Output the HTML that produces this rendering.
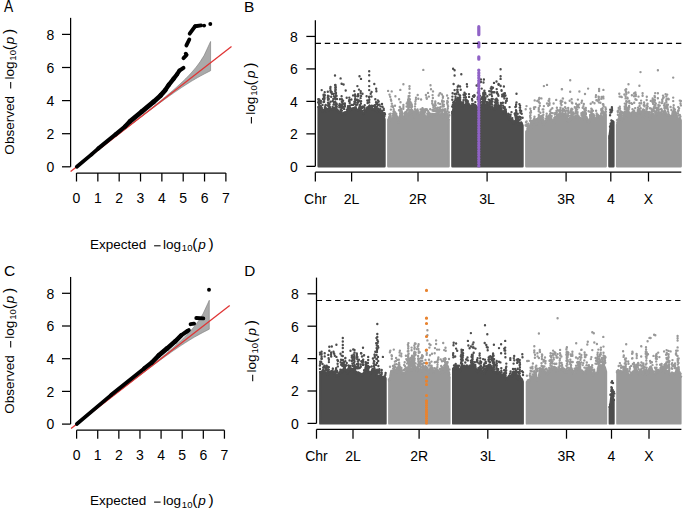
<!DOCTYPE html>
<html><head><meta charset="utf-8"><style>
html,body{margin:0;padding:0;background:#fff}
svg{display:block}
text{font-family:"Liberation Sans",sans-serif;fill:#000}
</style></head><body>
<svg width="685" height="510" viewBox="0 0 685 510">
<rect width="685" height="510" fill="#fff"/>
<path d="M318.6 166.3 L318.6 108.5 L319.6 105.8 L320.6 106.6 L321.6 108.9 L322.6 111.4 L323.6 109.9 L324.6 109.5 L325.6 107.7 L326.6 111.1 L327.6 108.9 L328.6 110 L329.6 106.5 L330.6 108.9 L331.6 109.3 L332.6 109.6 L333.6 108.2 L334.6 108 L335.6 108.9 L336.6 109 L337.6 110 L338.6 111.9 L339.6 112.3 L340.6 112 L341.6 112.6 L342.6 114.3 L343.6 114 L344.6 113 L345.6 113.9 L346.6 113.2 L347.6 110.3 L348.6 108.5 L349.6 109.6 L350.6 110.3 L351.5 109 L352.5 108.4 L353.5 108.2 L354.5 107.7 L355.5 107.6 L356.5 109.5 L357.5 110.5 L358.5 109.8 L359.5 107.1 L360.5 109.4 L361.5 110.7 L362.5 113.4 L363.5 114.1 L364.5 112.9 L365.5 111 L366.5 109.6 L367.5 107.9 L368.5 107.4 L369.5 105.5 L370.5 106.9 L371.5 106.7 L372.5 109.5 L373.5 109.2 L374.5 109.7 L375.5 110.3 L376.5 110.7 L377.5 111.9 L378.5 108.8 L379.5 110.8 L380.5 111.5 L381.5 113.1 L382.5 114.7 L383.5 115.9 L384.5 119.6 L384.5 166.3Z" fill="#4d4d4d" stroke="#4d4d4d" stroke-width="2.4" stroke-linejoin="round"/>
<path d="M318.3 107h0M319 104.5h0M318.1 102.4h0M318.7 100.9h0M318.3 99.3h0M319.1 103.8h0M319.3 99.4h0M319.7 102.1h0M319.2 104.9h0M320.9 100.9h0M320.8 103h0M320.8 106.2h0M321.7 107.9h0M323.6 94.6h0M323.9 97.2h0M324.7 92.2h0M324.9 95.1h0M324.5 96.9h0M324.5 98.4h0M324.9 107.2h0M324.2 99.7h0M324.1 101.7h0M325.4 105.6h0M325.6 104.9h0M327.9 95.7h0M327.8 97.7h0M328 99.8h0M328 102.8h0M328.9 105.9h0M328.6 108.9h0M328.2 103.1h0M327.8 105.3h0M328.7 96.1h0M328.7 98.4h0M328.9 105.3h0M328.3 106h0M328.4 102.8h0M328.7 99.6h0M329.6 104.1h0M330.2 108.7h0M330.6 101.7h0M330.3 88.2h0M330.4 90.8h0M330.5 87h0M330.5 90.1h0M330.8 92.2h0M331.7 92h0M331.9 93.7h0M331.2 96.7h0M332.8 100.9h0M332.6 107h0M332.7 109.3h0M333.5 104.6h0M333.9 104.2h0M333.7 102h0M333.3 99h0M334 96.2h0M333.5 94h0M335.8 103.5h0M335.7 106.1h0M335.7 104.8h0M335.2 101.8h0M335.5 99.1h0M335 98h0M335.7 96.6h0M336.1 95.3h0M335.6 93h0M335.3 91.2h0M335.6 88.9h0M335.8 87.1h0M335.3 85.2h0M336.3 103.3h0M336.6 104.8h0M336.2 107h0M336.8 104.3h0M336.1 106.3h0M336.8 106.8h0M339.7 104h0M339.2 105.5h0M339.3 107.3h0M340.8 105.1h0M340.8 106.9h0M340.9 109.6h0M340.5 110.3h0M340.8 111.2h0M342 105.6h0M342.1 107.3h0M341.9 107.9h0M341.9 110.5h0M341.9 99.3h0M341.8 101.7h0M342.1 104.3h0M341.4 107.9h0M341.1 110.9h0M342.4 114h0M343.1 103.6h0M343.1 106.7h0M344 112.6h0M343.4 103.6h0M343.1 100.7h0M342.8 103.2h0M344.3 104.1h0M344.6 105.1h0M344.9 105.1h0M344.1 108.9h0M344.9 106.5h0M344.9 103.4h0M345.3 112.3h0M346 113.8h0M346.8 109.6h0M346.6 112.2h0M347.5 109.5h0M347.8 109.1h0M348 106.1h0M347.8 107.8h0M348.3 107.6h0M349 101.1h0M349.3 108.8h0M350 107.5h0M350.4 109.2h0M349.6 101.4h0M349.7 105.6h0M349.7 102.9h0M349.3 100h0M349.3 97.6h0M351.5 104.9h0M351.4 99.5h0M353 104.9h0M353.1 95.4h0M354.3 91.1h0M354.9 102.5h0M354.6 104.1h0M354.4 101.8h0M354.4 103.8h0M355.6 96.1h0M355.3 98.9h0M355.3 100.6h0M355.4 102.6h0M355.1 94.5h0M355.2 96.7h0M355.1 99.2h0M355.2 102.1h0M356.2 105.1h0M355.6 107.2h0M357.9 101.5h0M357.3 104.6h0M357.3 99.7h0M357.6 102.9h0M358.1 94.3h0M357.9 96.2h0M358.9 100.5h0M358.2 100.4h0M357.9 102.6h0M360 105.1h0M360 107h0M359.8 105.2h0M359.9 101.3h0M360.7 91.3h0M360.7 93.3h0M360.6 98.1h0M361.1 101.2h0M360.9 103.6h0M361.1 95.9h0M362.1 106.8h0M361.7 108.3h0M362.8 106.8h0M362.3 111.3h0M362.1 108.1h0M362.2 111.1h0M363.3 113.2h0M364 110.5h0M364.7 105.3h0M364.5 107.8h0M364.7 109h0M367.3 107.5h0M367.3 100.5h0M367.6 103h0M369.1 97.3h0M369.3 99.7h0M369.2 102.2h0M371.6 92h0M371.8 105.7h0M373.4 106.1h0M373.5 105.9h0M374.5 109.3h0M374.9 105.1h0M374.9 107.3h0M376 109.9h0M376 102.3h0M376.3 103.8h0M376.1 106.7h0M375.9 108.4h0M376.2 88.7h0M376.4 91.2h0M377.6 102.6h0M377.9 105h0M377.1 106.8h0M377.5 109h0M378.7 101.5h0M379.5 104.6h0M380.4 106.4h0M380.4 109.2h0M380 111.1h0M381.4 110.9h0M382.9 114h0M382.2 110.9h0M381.9 113.5h0M382.1 112.4h0M382.4 114h0M382.5 106.7h0M383.4 113.3h0M383.7 108.6h0M383.8 110.1h0M383.9 115.7h0M385 114.2h0M384.6 113.3h0M384.5 116h0M384.3 113.2h0M384.3 115.4h0" stroke="#4d4d4d" stroke-width="2.4" stroke-linecap="round" fill="none"/>
<path d="M388.3 166.3 L388.3 119.7 L389.3 118.3 L390.3 121.7 L391.3 120.8 L392.3 119.7 L393.3 117 L394.3 116.1 L395.3 115.8 L396.3 115.9 L397.3 117.8 L398.4 122.4 L399.4 118.7 L400.4 114.6 L401.4 110 L402.4 115.7 L403.4 118.7 L404.4 116.7 L405.4 118.2 L406.4 116.9 L407.4 117.5 L408.4 113.4 L409.4 111.9 L410.4 113.3 L411.4 110.1 L412.4 112.6 L413.4 114.4 L414.4 117.4 L415.4 113.9 L416.4 112.1 L417.4 111 L418.4 113.7 L419.5 115.3 L420.5 114.8 L421.5 111.9 L422.5 108.1 L423.5 110.6 L424.5 114.5 L425.5 118.3 L426.5 118 L427.5 115.5 L428.5 113.2 L429.5 114.9 L430.5 115.4 L431.5 116.1 L432.5 114 L433.5 114.3 L434.5 114.6 L435.5 113.9 L436.5 113.7 L437.5 113.1 L438.6 114.9 L439.6 114.5 L440.6 115.1 L441.6 117.3 L442.6 117.4 L443.6 117.9 L444.6 113.8 L445.6 115 L446.6 115 L447.6 118 L448.6 121 L448.6 166.3Z" fill="#999999" stroke="#999999" stroke-width="2.4" stroke-linejoin="round"/>
<path d="M389.5 94.6h0M390.2 96.8h0M389.1 117.3h0M389.6 116.7h0M389.4 114.2h0M389.5 117h0M390.5 116.6h0M390.6 118.3h0M390.5 120.1h0M390 120.4h0M390.5 113.7h0M390.7 116.3h0M389.9 120.8h0M391.5 118.1h0M391.2 100.8h0M391.8 103.6h0M391.5 106.4h0M390.9 109.6h0M390.9 119.3h0M392.5 105.6h0M393.7 113.6h0M393.7 115.1h0M392.9 113.6h0M392.9 115.6h0M393 106.9h0M393.7 109.3h0M393.5 111.5h0M394.1 111.2h0M395.4 96.2h0M395.6 113.1h0M395 112.1h0M395 114.8h0M396.3 114.1h0M396.3 114h0M397.6 117.5h0M397.6 117.2h0M397.3 116.8h0M398.7 122h0M399 110.3h0M399.8 106.9h0M399.9 110.4h0M400.1 113.6h0M400.1 109.4h0M400.2 111.6h0M400.9 108.8h0M402 112.7h0M401.8 115.6h0M403.2 118h0M403.4 105h0M403.4 106.9h0M403.3 108.7h0M404.3 113.5h0M405.5 115.4h0M405.8 117.1h0M405.3 112.4h0M405.1 115h0M405.3 116.7h0M405.1 112.5h0M405 115.6h0M406.3 116.1h0M406.3 111.6h0M406.6 113.8h0M406.2 116.6h0M406.7 103.5h0M406.6 106.5h0M407.1 110.2h0M406.8 112.1h0M407 113.9h0M407.2 115.8h0M407.5 102.3h0M408.5 98.3h0M408.1 99.9h0M408.2 105.3h0M408.3 108.5h0M408.8 109.4h0M408.6 107.2h0M408.5 106.1h0M408.5 105h0M408.1 103.7h0M408.3 100.9h0M408.7 98.6h0M408.6 96.1h0M409.8 99.6h0M409.7 101.6h0M409.4 111.1h0M409 103.1h0M408.8 105.4h0M410.4 110h0M410.5 111.4h0M410.6 110.4h0M410.5 102.2h0M410.6 104.8h0M410.3 107.1h0M411.3 107.3h0M411.8 104.9h0M412 106.8h0M411 109.9h0M411.5 107.6h0M411.6 109.9h0M411.3 103.4h0M412.3 111.6h0M412.6 111h0M412.2 110.2h0M412.6 112.4h0M413.5 111.5h0M413.8 113.9h0M413.3 113.8h0M415.4 101.5h0M415.3 103.9h0M415 106.4h0M415 109.2h0M415.1 111h0M415.1 112.4h0M415.1 112.5h0M415.3 113.2h0M416.6 111.9h0M416.3 110.7h0M416 97.8h0M415.9 99.4h0M417.5 109.4h0M417.7 110.7h0M417.5 110.8h0M419.5 115.2h0M420.5 109.5h0M420.2 112.2h0M420.2 114.6h0M423.6 110.4h0M424.9 112.1h0M424.6 112.6h0M425.8 110.2h0M425.2 109.3h0M426.8 98.8h0M426.7 109.1h0M427 110h0M427.8 110.7h0M427.3 113.4h0M428.9 96.6h0M428.9 112.4h0M429.9 114.7h0M430.8 113.8h0M430.2 109.3h0M431 115.5h0M432.5 110.5h0M433 105.2h0M432.5 109.9h0M433.4 107.4h0M432.6 104.2h0M432.2 103.2h0M432.2 101h0M432.9 98h0M432.6 95.1h0M433.5 105.1h0M433.4 107.4h0M433.7 110.3h0M433.7 110.9h0M433.9 113.9h0M434.8 106h0M434.4 108.6h0M435.2 103h0M434.8 105.6h0M435.8 108.7h0M435.3 101.4h0M435.2 103.2h0M435.7 105.2h0M435.8 108.3h0M435.6 111.2h0M436.8 109.8h0M436.8 111.6h0M437.2 110.7h0M437.8 107.7h0M437.7 110.4h0M438.3 103.2h0M438.2 110.2h0M437.6 112.1h0M438.2 113.7h0M439.9 107.6h0M439.8 109.3h0M439.6 111h0M439.7 107.8h0M439.5 112.5h0M439.7 110.1h0M440.1 103.9h0M440.6 107h0M440.8 109.6h0M440.9 111.6h0M441.1 114.1h0M443 113.9h0M442.5 117h0M442.3 114.3h0M442.3 113.5h0M442.3 115.4h0M442.7 114.8h0M442.5 113.4h0M442.2 112.2h0M442.6 111h0M442.9 109.5h0M442.9 106.6h0M442.6 104.9h0M442.4 102.8h0M442.1 101.6h0M442.2 100.4h0M442.9 97.7h0M443 96.5h0M441.9 94.4h0M443.9 116h0M443.8 101.4h0M443.9 104.6h0M443.8 106.3h0M443.3 113.9h0M444.8 109.9h0M444.9 112h0M444.8 113.6h0M445.3 113.3h0M445.8 111.4h0M446.1 112.3h0M446 113.8h0M447.3 113.9h0M447.4 111.3h0M447.5 109.8h0M447.8 108.3h0M448.1 106.2h0M447.5 104.5h0M447.2 103h0M447.8 102h0M447.3 100.9h0M448.1 98.2h0M447.1 95.5h0M448.6 115.6h0M448.6 117.3h0M448.8 119.6h0M449 112.5h0M449.3 115.2h0M448.5 116.4h0" stroke="#999999" stroke-width="2.4" stroke-linecap="round" fill="none"/>
<path d="M452.4 166.3 L452.4 113.3 L453.4 111.1 L454.4 107.6 L455.4 102.9 L456.4 102.5 L457.4 104.4 L458.4 102.8 L459.4 102.8 L460.4 101.9 L461.4 106 L462.4 105.8 L463.4 106.1 L464.4 105.2 L465.4 105.5 L466.4 104.5 L467.4 105 L468.4 103.6 L469.4 105.3 L470.4 105.8 L471.4 107.2 L472.4 105.7 L473.4 104.1 L474.4 105.2 L475.4 105.4 L476.4 106.4 L477.4 108.2 L478.4 107.3 L479.4 108 L480.4 106.1 L481.4 106.2 L482.4 104.8 L483.4 100.7 L484.4 103.8 L485.4 105 L486.4 108.8 L487.4 105 L488.5 104.4 L489.5 106.6 L490.5 107.2 L491.5 108.8 L492.5 107.8 L493.5 108.8 L494.5 109.1 L495.5 109.3 L496.5 108.9 L497.5 107.3 L498.5 105.3 L499.5 106.3 L500.5 106.6 L501.5 110.5 L502.5 113.3 L503.5 112.6 L504.5 112.4 L505.5 110.3 L506.5 114.7 L507.5 116.1 L508.5 118.3 L509.5 119.6 L510.5 119.4 L511.5 120.8 L512.5 119.8 L513.5 123.3 L514.5 121.5 L515.5 120.8 L516.5 118.8 L517.5 122 L518.5 124.5 L519.5 123.9 L520.5 123.6 L521.5 123.1 L522.5 125.4 L522.5 166.3Z" fill="#4d4d4d" stroke="#4d4d4d" stroke-width="2.4" stroke-linejoin="round"/>
<path d="M452.8 113.2h0M452.2 106.5h0M452.3 112.9h0M452.2 111.6h0M452.4 96.6h0M452.3 99.7h0M453.3 110.3h0M452.9 104.8h0M453 107.4h0M453.1 110.1h0M453.2 102.5h0M453.6 105h0M453.2 107.5h0M453.4 105.8h0M453.5 108.7h0M453.8 102h0M454 104h0M454.7 93.9h0M455.5 96.4h0M455.5 102.6h0M455.6 98.4h0M455.3 102.8h0M455.2 100.2h0M456 100.5h0M456.3 100h0M456.7 99.9h0M456.4 101.5h0M457.8 98h0M457.9 100.9h0M457.8 102.9h0M457.7 86.8h0M457.6 89.7h0M457.2 89.7h0M457.4 92h0M457.9 92.1h0M458.4 85.8h0M458.9 99.1h0M458.8 100.8h0M458.7 100.7h0M458.6 98.5h0M458 97.8h0M458.5 94.3h0M459.6 102.4h0M460.1 86.5h0M460.7 89.7h0M460.1 95.5h0M459.9 97.4h0M459.8 100.2h0M460.2 97.8h0M460.1 99.5h0M460.3 101.4h0M461.6 104.6h0M461.1 105.6h0M461.5 102.9h0M463.5 105.1h0M463.5 100.1h0M463.2 102.4h0M463.3 105h0M463.6 94.7h0M463.6 104.9h0M463 102.2h0M463 103.9h0M465.7 94h0M465.9 97.3h0M465.7 99.4h0M465.8 101.3h0M465.6 104.2h0M466.8 101.6h0M466.6 100h0M466.3 102.8h0M466.5 104.3h0M467.1 86.6h0M467.8 101.8h0M467.6 104.8h0M467.7 100.9h0M469 94.1h0M469.1 96.9h0M472.2 104h0M472 99h0M472.3 100.5h0M474.7 95.8h0M474.3 95.1h0M474 96.7h0M475.3 102.1h0M475 104.9h0M477.8 97.2h0M477.7 99.2h0M477.8 92.8h0M478.6 83.9h0M478.3 85.7h0M479.9 95.8h0M479.6 98.5h0M479.9 101.1h0M479.9 103.4h0M479.1 105.2h0M479.2 107.5h0M480.7 98.7h0M480 100.3h0M480 102.4h0M480.1 105.5h0M480.5 105.3h0M481 101.7h0M481.6 104.8h0M482.1 97.2h0M482 98.7h0M483.6 92.7h0M483 99.8h0M483.3 92.9h0M483.6 95.8h0M483.9 79.5h0M483.5 82.5h0M483.2 94h0M482.9 96.1h0M483.5 95.3h0M483.6 98.1h0M483.9 94.1h0M483.8 96.5h0M484.4 90.7h0M484.5 92.5h0M484.2 94.9h0M484.6 101.4h0M484.2 99.8h0M485.3 99h0M485.1 100.6h0M485.5 97.7h0M485.2 92.9h0M485.5 94.4h0M485.4 97.4h0M486.3 102.3h0M486.4 104h0M487.3 102.2h0M487.8 104.7h0M488.9 102.4h0M488.7 99.6h0M489.2 91.1h0M489.5 94.6h0M489.8 103.8h0M489.8 105.7h0M490.8 88.4h0M490.6 91.4h0M490 100.7h0M489.7 103.7h0M489.6 105.5h0M491.5 104h0M491.5 107h0M491.5 108.6h0M491.4 108.5h0M492 104.8h0M491.6 103.5h0M491.1 102.3h0M491.4 100.1h0M491.6 98.9h0M492 96.1h0M491.4 94.2h0M491.7 92h0M491.6 89.3h0M491.5 86.9h0M492.7 99h0M492.5 101.6h0M492 106.9h0M493 87.8h0M493.2 92.3h0M493.8 108.6h0M494.5 107h0M494 108.7h0M494.5 105.4h0M494.5 107h0M494 82.9h0M495.9 101.1h0M495.7 103.5h0M495.8 107.1h0M495.9 109h0M495.3 99.8h0M495.1 102.3h0M495.4 104.6h0M495 106.3h0M496.4 102.3h0M496.6 98.7h0M496.4 100.7h0M496.5 103.3h0M496 100.9h0M496.2 103.2h0M496.3 106.2h0M496.7 89.1h0M497.1 92.3h0M496.6 105h0M497.6 100.7h0M497.3 99.9h0M497.3 101.4h0M497.3 100.5h0M497.7 103h0M497.4 105.4h0M497.5 107h0M498.6 84.8h0M498.4 95.7h0M500.9 105.1h0M500.6 106h0M500.9 103h0M501.1 103.5h0M501.2 109.8h0M502.2 94.7h0M502.2 96.4h0M502.9 102.7h0M502.6 105.6h0M503.1 105.7h0M503.2 107.7h0M503.9 94.4h0M504 96.2h0M504.4 98.4h0M503.2 111.5h0M503.9 86.5h0M504.7 109.4h0M504.4 112.2h0M504.9 93.2h0M505.5 95.4h0M504.2 110.6h0M504.8 107.3h0M504.6 110.4h0M505.7 109.5h0M505.6 102.8h0M506.9 98.6h0M506.7 100.7h0M508.5 114h0M508.4 115h0M508.8 116.8h0M508.2 113.9h0M508.3 116.7h0M509.2 119.4h0M509.6 107.1h0M510.4 116.5h0M510.3 118.4h0M510.6 114.7h0M510.4 119h0M511.5 112.1h0M512.3 118.1h0M514.8 113.6h0M514.7 113.8h0M515.5 114.8h0M515.7 117.7h0M516.1 104.5h0M516 106.2h0M516 110.2h0M516.2 112.9h0M517 113.5h0M516.8 116.3h0M517.7 113.8h0M517.7 116.8h0M517.9 120.8h0M518.1 118.6h0M518.1 121.6h0M519.4 104.1h0M519.3 116.8h0M519.4 119.7h0M519.4 122.7h0M520.2 123.4h0M520.1 105.6h0M519.7 107.6h0M520 110.5h0M520.5 117.2h0M520.5 119.3h0M520.1 107.7h0M520.1 110.2h0M521.2 111h0M521.7 113.7h0M521.2 122.5h0M522.6 117.8h0" stroke="#4d4d4d" stroke-width="2.4" stroke-linecap="round" fill="none"/>
<path d="M526.3 166.3 L526.3 131.5 L527.3 132.2 L528.3 128.8 L529.3 129.1 L530.3 124.7 L531.3 127.2 L532.3 124.6 L533.3 124.3 L534.3 121.8 L535.3 123 L536.4 124.3 L537.4 121 L538.4 117.9 L539.4 116 L540.4 117.7 L541.4 120 L542.4 122.2 L543.4 124.5 L544.4 123.9 L545.4 121.2 L546.4 120.3 L547.4 118.4 L548.4 117.4 L549.4 115.6 L550.4 119.1 L551.4 120.2 L552.4 120.4 L553.4 119.7 L554.4 122.5 L555.4 119.8 L556.5 117.1 L557.5 114.6 L558.5 115.1 L559.5 114.4 L560.5 113.2 L561.5 115.1 L562.5 115.6 L563.5 114.2 L564.5 114.4 L565.5 115.8 L566.5 117 L567.5 121.1 L568.5 120.7 L569.5 122 L570.5 118.1 L571.5 118.5 L572.5 117.4 L573.5 117.3 L574.5 116.9 L575.5 117.6 L576.6 117.1 L577.6 117.9 L578.6 116.3 L579.6 119.3 L580.6 118.3 L581.6 119.1 L582.6 118.5 L583.6 119.4 L584.6 118.2 L585.6 116.6 L586.6 117.2 L587.6 123.2 L588.6 122.6 L589.6 121.2 L590.6 116.2 L591.6 113.7 L592.6 113.9 L593.6 114.6 L594.6 118.4 L595.6 118.5 L596.7 118.7 L597.7 116.7 L598.7 115.8 L599.7 116.9 L600.7 118.6 L601.7 117.4 L602.7 117.7 L603.7 116 L604.7 115.6 L605.7 114.3 L605.7 166.3Z" fill="#999999" stroke="#999999" stroke-width="2.4" stroke-linejoin="round"/>
<path d="M526.5 124.4h0M526.4 126h0M526.5 106.1h0M525.7 109.2h0M526.6 121.4h0M526 122.1h0M525.6 125.3h0M527.4 128.8h0M527.3 130.8h0M528.3 123.8h0M528 128.7h0M528.5 127.5h0M528 125.8h0M528 127.7h0M528.5 128.2h0M530.6 118h0M530.4 120.5h0M530.2 112.7h0M530.5 115.2h0M530 120.7h0M530.3 117.8h0M530.1 115.9h0M531 112.6h0M530.9 111h0M530.3 108.7h0M531.1 126.5h0M530.9 123h0M531.5 122.6h0M531.6 124.1h0M533.4 122.3h0M533.6 120.5h0M532.8 122.6h0M533.8 119.6h0M534.1 122.4h0M533 120.8h0M532.7 124h0M533.4 122h0M534.5 116.8h0M534.2 118.7h0M534 107.4h0M534.1 108.9h0M534.3 119.4h0M534.4 121.2h0M535.7 120.3h0M535.9 123.8h0M536.4 119.1h0M536 120.6h0M535.7 122.8h0M537.3 100.9h0M537.7 119.6h0M538.8 107.9h0M538.8 109.4h0M538.7 111.2h0M538.8 114.9h0M538.9 99.5h0M539.8 103.1h0M539.8 105.7h0M540.4 112.7h0M541.3 116h0M542.8 121.6h0M542.4 119.1h0M542.7 109.4h0M542.3 117h0M542.2 118.9h0M542.2 117.5h0M543 117.6h0M543 117.1h0M543.3 109.5h0M543.3 112.1h0M543.3 114.7h0M543.2 119.8h0M543.1 122.4h0M544.5 122.6h0M544.3 121.2h0M544.1 122h0M544.7 122.3h0M545.6 118.6h0M546.5 116.5h0M546.6 118.4h0M546.7 113.7h0M546.6 116h0M547.3 116.4h0M547.6 116.9h0M547.5 117.1h0M548.2 105.8h0M549.3 99h0M548.6 100.7h0M549.6 103.1h0M549.5 104.8h0M549.4 115.5h0M549.2 100.8h0M548.9 103.8h0M549.9 111.3h0M550.1 114h0M550.8 109.6h0M551 112.8h0M551.6 116h0M551.4 118.3h0M552.3 108.2h0M552.8 113.1h0M554.3 118h0M555.8 117.3h0M555.2 112.9h0M554.8 114.6h0M555 117.3h0M555.9 118.5h0M556.8 112.3h0M556.6 114h0M556.9 107.8h0M556.5 110.8h0M557.5 110h0M559 110.7h0M559.7 113.9h0M559.9 111.8h0M559.7 114.4h0M559.3 113.4h0M560.5 107.7h0M560.5 109.8h0M560.3 109.7h0M560.6 101.3h0M560.9 102h0M560.8 103.6h0M561 100.6h0M560.9 102.5h0M561.5 105h0M561.3 115h0M562.1 110.8h0M562.3 112.8h0M563.9 113.6h0M563.3 110.1h0M563 108.7h0M563.3 110.7h0M564.1 109.9h0M565.7 108.4h0M565.3 111.2h0M565.8 113.3h0M565.1 115.6h0M565.1 107.1h0M567 110.6h0M566.6 115.1h0M567.3 115.3h0M567.3 118.4h0M567.8 120.3h0M567.4 117.8h0M567.6 119.6h0M568.5 115.7h0M568.5 111.1h0M568.2 113.3h0M568.2 108h0M568.4 110.3h0M568.3 112.4h0M568.1 119.3h0M569.6 118.5h0M569.4 120.4h0M570.9 116.8h0M570.6 115.6h0M570 117.7h0M570.2 112.5h0M570.8 117.8h0M571.2 109.3h0M571.1 110.8h0M571.4 112.6h0M571.4 114.1h0M571.6 108.7h0M571.6 110.7h0M571.6 99.3h0M571.8 102.5h0M571.9 115h0M571.5 117.1h0M572.3 109.2h0M572.2 112.4h0M572.3 114.1h0M572.7 116.4h0M573.2 112.5h0M573.1 114.2h0M573.1 116.7h0M573.8 116.4h0M573.8 116.6h0M574.8 113.6h0M574.6 116.8h0M575.7 108.5h0M575.8 111.2h0M576.3 113.3h0M575.5 115.9h0M576.1 109.3h0M576.2 112.5h0M576.1 103.7h0M577.2 104.9h0M577.7 107.1h0M577.5 114.7h0M577.7 116.9h0M577.5 113.8h0M577.6 112.1h0M577.2 109.6h0M576.7 106.9h0M577.8 105.8h0M579.2 104.4h0M578.9 107.4h0M580.6 118h0M581.5 114.4h0M581.4 113.3h0M581.6 115.5h0M583 112.7h0M583.4 115.1h0M583.2 118h0M583 112.1h0M583 114.4h0M582.6 112.4h0M582.4 114h0M582.5 116.3h0M582.7 107.8h0M583.3 117h0M583.8 104h0M583.4 106.1h0M584.2 116.6h0M585.1 114.9h0M585.3 118.1h0M584.4 109.7h0M584.1 112.7h0M584.4 115.8h0M584.3 117.9h0M585.9 110.3h0M585.7 112.8h0M585.9 114.4h0M585.8 108h0M585.1 110.9h0M585.9 113.6h0M587.8 119.4h0M587.6 121.7h0M588.7 120.6h0M589.3 122.1h0M588.6 111.2h0M590.2 116.1h0M590.4 112.1h0M590.1 115h0M591 114.8h0M591.9 109.5h0M591.7 111.9h0M591.7 110.3h0M591.3 108.6h0M591.4 110.5h0M592.9 110.8h0M594.5 103.2h0M596.1 110.8h0M596 95.2h0M595.8 97.1h0M596.4 100.3h0M596.7 113.5h0M597 116.3h0M596.5 115.4h0M596.3 118h0M597 117.3h0M596.6 118.2h0M597.6 115.8h0M597.8 114.6h0M598.7 97.6h0M599.1 89h0M599.1 91h0M598.8 97h0M599.1 99.8h0M598.9 102.4h0M598.5 96.6h0M598.7 99.4h0M601.1 117.4h0M600.5 115.8h0M601.1 113.7h0M601.2 109.1h0M601.3 110.6h0M602 111.8h0M602.3 113.3h0M601.6 96.9h0M601.4 98.7h0M601.3 113.1h0M601.7 116.1h0M602.6 108.2h0M602.5 110.3h0M602.8 112.1h0M603.5 111.7h0M603.5 114.3h0M603.3 96.8h0M603.4 104.5h0M603.6 106.1h0M604 115.7h0M603.7 113.7h0M604.2 115.8h0M604.9 113.5h0M605.5 107.5h0M605.7 109.5h0M605.6 112.4h0M606 109.1h0M605.9 111.8h0" stroke="#999999" stroke-width="2.4" stroke-linecap="round" fill="none"/>
<path d="M609.4 166.3 L609.4 137.9 L610.4 129.3 L611.4 123.8 L612.4 121.2 L613.4 121.7 L613.4 166.3Z" fill="#4d4d4d" stroke="#4d4d4d" stroke-width="2.4" stroke-linejoin="round"/>
<path d="M609.6 137.8h0M609.5 136.1h0M610.3 109.7h0M610.4 112.5h0M610.1 115.3h0M610.6 123.8h0M610.4 127.1h0M610 126.4h0M610.5 112.4h0M611.1 123.5h0M611.4 120.5h0M612.5 121.2h0M611.9 107.2h0M612 108.9h0" stroke="#4d4d4d" stroke-width="2.4" stroke-linecap="round" fill="none"/>
<path d="M617.1 166.3 L617.1 124.9 L618.1 121.5 L619.1 117.5 L620.1 112.7 L621.1 115.9 L622.1 120.7 L623.1 120.2 L624.1 115.7 L625 113 L626 113.4 L627 115.8 L628 116.1 L629 115.4 L630 115.8 L631 113.7 L632 112.6 L633 112 L634 110.5 L635 114.7 L636 113.2 L637 115.8 L638 110.3 L639 111.5 L640 112.6 L641 113.9 L641.9 116 L642.9 114.2 L643.9 117.5 L644.9 113.4 L645.9 114.2 L646.9 111.8 L647.9 113.8 L648.9 115.1 L649.9 119.3 L650.9 116.7 L651.9 114.8 L652.9 113.4 L653.9 116.3 L654.9 115.2 L655.9 115.6 L656.8 112 L657.8 113.7 L658.8 112 L659.8 113.4 L660.8 112.6 L661.8 113.4 L662.8 113.8 L663.8 113.4 L664.8 110.3 L665.8 112.8 L666.8 114.9 L667.8 115.5 L668.8 114.7 L669.8 116 L670.8 117.6 L671.8 116 L672.8 113.9 L673.7 111.2 L674.7 112.7 L675.7 112.5 L676.7 117.5 L677.7 118.9 L678.7 120 L679.7 117.9 L680.7 120.5 L680.7 166.3Z" fill="#999999" stroke="#999999" stroke-width="2.4" stroke-linejoin="round"/>
<path d="M617.2 120h0M617.3 122.4h0M617.7 111.3h0M617.9 112h0M617.9 114.8h0M618.7 108h0M618.4 110.4h0M619.3 93.8h0M619.6 96.6h0M619.2 115.4h0M619.8 106.8h0M620 108.8h0M620.6 111.1h0M621.5 113.6h0M621.7 115.5h0M621.9 112.2h0M621.5 114.6h0M621.7 117.3h0M621.3 119.3h0M622.3 118.9h0M622.4 120.1h0M621.7 115.2h0M623.5 113.3h0M623.8 115.5h0M623 113h0M622.6 119.5h0M624.8 103.6h0M624.7 106.5h0M624.8 109h0M624.6 111.7h0M624.8 107h0M626.2 89.2h0M625.9 91.8h0M626.3 94.1h0M626 109.4h0M626 107.9h0M626 105.8h0M626.1 104.3h0M626.6 102.6h0M626.2 101.1h0M625.6 98.4h0M625.6 96.2h0M626.4 93.2h0M626.7 110.9h0M626.1 113.2h0M627.1 110h0M627.3 112.8h0M626.7 115.5h0M627.5 110.9h0M627.2 113.6h0M627.7 107.8h0M627.7 110.7h0M627.6 113.8h0M627.7 115.8h0M627.6 98.6h0M627.3 101.6h0M629.2 101h0M629.4 103.1h0M629.1 105.9h0M629.2 107.5h0M628.6 109.8h0M629.5 114h0M628.7 109.4h0M628.3 111.3h0M628.6 113.9h0M629.6 112.7h0M631.4 103.3h0M632.1 103.9h0M632.5 109.2h0M634 93.5h0M634.1 96.3h0M634.2 102.8h0M635.4 92.4h0M635.8 94.5h0M635.8 96h0M635.4 99.3h0M635.2 108.1h0M636.6 115h0M638.1 107.6h0M637.9 109.7h0M639.2 108.8h0M638.5 96.6h0M639.4 85.8h0M639.5 103.3h0M639.6 105.9h0M639.6 110.5h0M640.1 111.2h0M640.2 112h0M641.1 100.6h0M641.2 103.2h0M640.8 112.6h0M640.7 108.2h0M642 114.6h0M641.6 111.8h0M643.4 113.1h0M642.8 110.2h0M642.3 111.9h0M643.2 109.4h0M643 111.7h0M643.7 105.3h0M643.9 116h0M643.6 111.1h0M643.5 113h0M644.1 102.5h0M644.2 104.3h0M644.4 106.2h0M643.7 111.6h0M643.5 110.7h0M643.6 113h0M643.5 116.2h0M643.6 113.5h0M643.8 116.6h0M644.6 110.2h0M645 112h0M646.4 108.1h0M646.8 109.6h0M646.3 111.6h0M646.8 96.8h0M646.7 100h0M647.4 103.9h0M647.1 105.5h0M646.6 105.6h0M647.2 108.5h0M648.1 112.5h0M647.5 103.7h0M647.7 106.6h0M648.2 112.2h0M649.1 111.9h0M649.3 112.9h0M649.6 114.6h0M648.9 112.4h0M650 108.3h0M649.4 114.9h0M649.8 116.4h0M650.9 115.7h0M651.8 109.7h0M651.8 111.4h0M651.3 114.2h0M651.5 108.8h0M651.4 111.9h0M651.7 109.7h0M651.7 111.8h0M651.8 113.5h0M653.3 110.6h0M653.3 110.8h0M652.7 98.4h0M652.5 100.1h0M652.5 101.9h0M653.3 101.2h0M653 103.8h0M653.9 107.3h0M653.9 108.8h0M654.7 111.6h0M655.2 113.1h0M654.7 111.1h0M655 108.2h0M654.5 105.2h0M655.8 103.4h0M654.8 102.4h0M654.6 100h0M655 97.3h0M654.6 95.9h0M655.2 93.1h0M655.4 112.5h0M655.7 115.5h0M655.4 105.3h0M655.7 107.8h0M655.9 111.7h0M656 114.4h0M657.1 108.5h0M656.8 108h0M657.1 109.8h0M657.5 108.8h0M658.4 104.9h0M658.3 107.5h0M658.4 105.2h0M658.5 107.2h0M659.2 109.6h0M658.4 108.2h0M658.2 110.2h0M659.5 102.4h0M659.8 105.6h0M661.2 108.9h0M661.6 111.6h0M661.7 109.7h0M662.2 99.7h0M662.3 101.3h0M661.9 103.1h0M663 95.6h0M663.7 97.2h0M662.6 111.3h0M663.5 111.8h0M664 105.5h0M664.4 108h0M664.5 103.4h0M664.7 106.3h0M664.9 107.8h0M666.3 106.1h0M666.4 108.3h0M666 106.9h0M666.3 100.4h0M666.4 101.9h0M666.5 104.5h0M666.4 106.5h0M667.2 94.6h0M666.3 96.5h0M666.5 99.3h0M667.5 107.1h0M667.9 109.1h0M668.1 111.2h0M667.9 104.7h0M668.4 112.9h0M668.7 99.3h0M669.3 115.4h0M670.3 116.7h0M670.6 107h0M671.2 117.3h0M671.4 110h0M672.6 112.3h0M672.5 113.6h0M674.2 110.1h0M673.7 105.3h0M673.5 107.8h0M673.9 110.4h0M674.3 108.9h0M674.9 109.6h0M675 111.8h0M678.1 111h0M677.5 117.1h0M677.4 118.1h0M679.1 108.3h0M678.7 110.5h0M678.2 107.1h0M678.4 110.2h0M678 113.1h0M678.2 115.2h0M678.7 119.4h0M679.8 100.6h0M679.8 115h0M680.4 116.5h0M680.9 101h0M680.5 103.5h0M680.9 105.4h0" stroke="#999999" stroke-width="2.4" stroke-linecap="round" fill="none"/>
<path d="M335 75.5h0M340.6 78.4h0M341.6 83.7h0M343.6 84.5h0M345.7 90.5h0M321.7 90.1h0M327.8 91.7h0M323.7 95.8h0M335.3 85h0M335.3 87.5h0M335.5 90h0M336 93h0M336.5 96h0M337 99h0M359.5 76.3h0M361 78.9h0M357.4 86.1h0M359 89.6h0M358.5 95.8h0M362.5 93.7h0M369.2 71.2h0M369.2 75.3h0M369.2 81h0M369.2 86.1h0M369.2 90.1h0M370.7 93.7h0M371.5 96.5h0M374.3 84h0M366.6 96.3h0M369.2 96.8h0M375.3 99.3h0M377.9 100.4h0M341.6 96.3h0M340 99.3h0M346.7 97.8h0M382 104h0M323 99h0M323.5 102h0M322.5 105h0" stroke="#4d4d4d" stroke-width="2.4" stroke-linecap="round" fill="none"/>
<path d="M423.3 69.9h0M403.4 84.2h0M388.1 90.9h0M391.7 91.4h0M400.3 89.9h0M409.5 86.3h0M409.5 88.8h0M409.5 93h0M409.5 96h0M409.5 99h0M409.5 102h0M430.5 85.3h0M431 89.3h0M433 91.4h0M428 92.9h0M425.9 95h0M439.7 93.4h0M438.7 95.5h0M417.7 95h0M390.9 99.5h0M399.1 99.2h0M400.5 102.3h0M395 105.7h0M418.3 98.8h0M421.1 99.5h0M426.5 97.4h0M440.3 93.3h0M445.1 109.1h0" stroke="#999999" stroke-width="2.4" stroke-linecap="round" fill="none"/>
<path d="M453.1 68.7h0M454.6 70.2h0M454.6 75.5h0M461.3 74.3h0M453.6 84h0M466.9 84.3h0M454.6 90.1h0M452.6 93.2h0M456.2 93.7h0M464.5 92.7h0M465 95h0M464 97.5h0M473 96.3h0M476.6 85.5h0M480.9 79.4h0M480.9 82h0M481.7 88.6h0M483.8 93.7h0M487.3 96.3h0M500.6 69.2h0M500.6 76.3h0M500.6 78.9h0M496.5 81.5h0M498.6 84h0M500.6 86.1h0M501.6 90.7h0M494.5 92.2h0M497 93.2h0M498 94.2h0M503.7 93.7h0M504.7 96.3h0M516.5 93.7h0M516.5 102.4h0M515.4 107h0M506.2 100.9h0M516.3 111.2h0M520.4 112.7h0M515.3 115.8h0M506.1 101h0M504.1 95.3h0M501.5 90.2h0M500.5 85.6h0" stroke="#4d4d4d" stroke-width="2.4" stroke-linecap="round" fill="none"/>
<path d="M543.9 86.1h0M547 84.9h0M561.8 89.2h0M534.7 100.4h0M539.3 97.9h0M541.4 98.4h0M538.8 102h0M535.3 107.1h0M543.9 106.1h0M547 103.5h0M556.2 99.9h0M553.6 103.5h0M562.8 98.4h0M562.3 101.5h0M565.4 103h0M531.7 120.9h0M570.2 80.2h0M562 89.2h0M570.2 91.7h0M579.4 91.5h0M588.1 88.6h0M585 94h0M603.4 89.9h0M603.4 98.4h0M563 98.6h0M565.1 102.7h0M569.7 100.7h0M572.3 103.2h0M577.9 99.6h0M582 100.7h0M581.5 102.7h0M592.7 102.2h0M590.7 103.7h0M597.8 100.7h0M600.4 102.7h0M602.9 104.2h0M574.8 107.3h0M584.5 108.8h0" stroke="#999999" stroke-width="2.4" stroke-linecap="round" fill="none"/>
<path d="M612.1 110.4h0M611.5 112h0" stroke="#4d4d4d" stroke-width="2.4" stroke-linecap="round" fill="none"/>
<path d="M628.5 84.3h0M625.4 89.9h0M628.5 92.5h0M624.4 94.5h0M621.8 97.1h0M627.4 97.6h0M640.5 72.1h0M657.9 70.2h0M673.2 77.6h0M631.9 95.3h0M642.6 93.2h0M642.6 95.8h0M657.9 93.2h0M665.6 94.2h0M673.2 97.6h0M673.2 101.1h0M650.8 100.9h0M654.9 100.4h0M657.9 98.3h0M663 98.3h0M668.1 98.8h0M621.1 96.8h0M636.5 99.9h0" stroke="#999999" stroke-width="2.4" stroke-linecap="round" fill="none"/>
<path d="M478.8 26.7V34.7M478.8 42.5V47M478.8 56.8V59.2" stroke="#9062c6" stroke-width="3.2" stroke-linecap="round" fill="none"/>
<path d="M478.8 70.3h0M478.8 72.88h0M478.8 75.47h0M478.8 78.05h0M478.8 80.64h0M478.8 83.22h0M478.8 85.8h0M478.8 88.39h0M478.8 90.97h0M478.8 93.55h0M478.8 96.14h0M478.8 98.72h0M478.8 101.31h0M478.8 103.89h0M478.8 106.47h0M478.8 109.06h0M478.8 111.64h0M478.8 114.22h0M478.8 116.81h0M478.8 119.39h0M478.8 121.98h0M478.8 124.56h0M478.8 127.14h0M478.8 129.73h0M478.8 132.31h0M478.8 134.89h0M478.8 137.48h0M478.8 140.06h0M478.8 142.65h0M478.8 145.23h0M478.8 147.81h0M478.8 150.4h0M478.8 152.98h0M478.8 155.56h0M478.8 158.15h0M478.8 160.73h0M478.8 163.32h0M478.8 165.9h0" stroke="#9062c6" stroke-width="3.4" stroke-linecap="round" fill="none"/>
<line x1="315.35" y1="20.19" x2="315.35" y2="166.35" stroke="#000" stroke-width="1.25"/>
<line x1="306.35" y1="166.35" x2="315.35" y2="166.35" stroke="#000" stroke-width="1.25"/>
<text x="297.75" y="171.65" font-size="14" text-anchor="end">0</text>
<line x1="306.35" y1="133.87" x2="315.35" y2="133.87" stroke="#000" stroke-width="1.25"/>
<text x="297.75" y="139.17" font-size="14" text-anchor="end">2</text>
<line x1="306.35" y1="101.39" x2="315.35" y2="101.39" stroke="#000" stroke-width="1.25"/>
<text x="297.75" y="106.69" font-size="14" text-anchor="end">4</text>
<line x1="306.35" y1="68.91" x2="315.35" y2="68.91" stroke="#000" stroke-width="1.25"/>
<text x="297.75" y="74.21" font-size="14" text-anchor="end">6</text>
<line x1="306.35" y1="36.43" x2="315.35" y2="36.43" stroke="#000" stroke-width="1.25"/>
<text x="297.75" y="41.73" font-size="14" text-anchor="end">8</text>
<line x1="315.35" y1="172.2" x2="681.3" y2="172.2" stroke="#000" stroke-width="1.25"/>
<line x1="315.35" y1="172.2" x2="315.35" y2="181.5" stroke="#000" stroke-width="1.25"/>
<text x="315.35" y="203.6" font-size="14" text-anchor="middle">Chr</text>
<line x1="351.6" y1="172.2" x2="351.6" y2="181.5" stroke="#000" stroke-width="1.25"/>
<text x="351.6" y="203.6" font-size="14" text-anchor="middle">2L</text>
<line x1="418" y1="172.2" x2="418" y2="181.5" stroke="#000" stroke-width="1.25"/>
<text x="418" y="203.6" font-size="14" text-anchor="middle">2R</text>
<line x1="487.1" y1="172.2" x2="487.1" y2="181.5" stroke="#000" stroke-width="1.25"/>
<text x="487.1" y="203.6" font-size="14" text-anchor="middle">3L</text>
<line x1="566.1" y1="172.2" x2="566.1" y2="181.5" stroke="#000" stroke-width="1.25"/>
<text x="566.1" y="203.6" font-size="14" text-anchor="middle">3R</text>
<line x1="610.8" y1="172.2" x2="610.8" y2="181.5" stroke="#000" stroke-width="1.25"/>
<text x="610.8" y="203.6" font-size="14" text-anchor="middle">4</text>
<line x1="648.5" y1="172.2" x2="648.5" y2="181.5" stroke="#000" stroke-width="1.25"/>
<text x="648.5" y="203.6" font-size="14" text-anchor="middle">X</text>
<line x1="315.55" y1="43.4" x2="682" y2="43.4" stroke="#000" stroke-width="1.2" stroke-dasharray="5.4 3.841"/>
<g transform="translate(254.5 123.6) rotate(-90)"><line x1="0" y1="-3.1" x2="6.5" y2="-3.1" stroke="#000" stroke-width="1.05"/><text x="8.8" y="0" font-size="13.5">log</text><text x="27.78" y="2.4" font-size="9.5">10</text><text x="38.14" y="0.2" font-size="15.5">(</text><text x="45.64" y="0" font-size="13.5" font-style="italic">p</text><text x="55.91" y="0.2" font-size="15.5">)</text></g>
<path d="M320.3 423.4 L320.3 372.2 L321.3 373.7 L322.3 371.1 L323.3 372.2 L324.3 371.2 L325.3 374 L326.3 374.4 L327.4 374.9 L328.4 374.4 L329.4 371.9 L330.4 372.3 L331.4 371.1 L332.4 371.6 L333.4 371.8 L334.4 375.2 L335.4 375.7 L336.4 376.5 L337.4 374.5 L338.4 375.3 L339.4 372.6 L340.4 371.8 L341.4 372.7 L342.4 371.7 L343.4 371 L344.4 367.2 L345.4 369.9 L346.4 370.4 L347.4 373.2 L348.4 371.1 L349.4 370.7 L350.4 370.6 L351.4 368.6 L352.4 369.2 L353.4 368.7 L354.4 371.4 L355.4 372.1 L356.4 371.8 L357.4 374.8 L358.4 372.4 L359.4 375.8 L360.4 373.7 L361.5 375.3 L362.5 373.8 L363.5 374.2 L364.5 372.8 L365.5 368.8 L366.5 366.6 L367.5 368.2 L368.5 372.6 L369.5 375.3 L370.5 374 L371.5 371.9 L372.5 369.1 L373.5 369.5 L374.5 369 L375.5 371.8 L376.5 374.5 L377.5 377.9 L378.5 377.2 L379.5 376.5 L380.5 375 L381.5 377.1 L382.5 377.4 L383.5 377.3 L384.5 376.3 L385.5 378.5 L385.5 423.4Z" fill="#4d4d4d" stroke="#4d4d4d" stroke-width="2.4" stroke-linejoin="round"/>
<path d="M320 352.7h0M320.1 354.4h0M320 368.9h0M320.2 372h0M320.2 361.8h0M320.2 363.7h0M319.9 365.5h0M320.4 372.2h0M321.6 358.3h0M323.2 367.4h0M323.2 369.8h0M323.1 371.7h0M324.4 365.7h0M324.5 367.4h0M325.2 367.1h0M325.2 367.8h0M325.2 370.4h0M324.5 372.3h0M326 369.2h0M326.2 367.9h0M326.8 369.6h0M326.6 366.6h0M326.4 368.5h0M326.5 370.5h0M326.9 373.3h0M326.2 368.9h0M326.7 373.3h0M326.7 365.7h0M326.5 367.8h0M327.7 371.3h0M327.4 374.3h0M327.8 373.2h0M327 373.6h0M327.8 366.8h0M328.1 369.2h0M328.1 372.4h0M328.8 369.7h0M328.5 372.6h0M328.6 358.3h0M328.3 370.9h0M328.9 367.1h0M328.7 369.9h0M328.9 359.7h0M328.9 362.1h0M331.1 352.4h0M331 354.4h0M331.2 356.5h0M332.8 368.8h0M333.5 351.8h0M333.8 353.3h0M332.9 368.8h0M332.1 371.1h0M334.8 355.8h0M334.1 371.7h0M334.2 353.7h0M335.7 370.4h0M335.1 371.9h0M334.7 373.7h0M336.1 368.3h0M335.9 370h0M336 372h0M335.6 373.6h0M336.7 374.9h0M336.5 376.4h0M336.7 376.1h0M337 370.6h0M337.5 372.1h0M337.9 360.9h0M337.6 363.8h0M337.8 366.4h0M338.8 374.1h0M338.5 375.3h0M340.4 369.7h0M340.5 370.6h0M341 359.8h0M340.6 362.3h0M341.2 364.7h0M341.6 355.6h0M342.8 371.6h0M342.7 360.1h0M342.5 369.8h0M342.3 363h0M342.5 366h0M342.6 370.7h0M343.7 363h0M343.9 362.3h0M343.7 365h0M344.3 366.8h0M345.2 358.2h0M345.3 361.1h0M345.4 357.9h0M345.1 365.1h0M344.9 367.7h0M345.3 366h0M346.7 363h0M346.3 365.5h0M347.3 369.8h0M347.7 372.6h0M347 371.4h0M348.6 365.4h0M348.6 368.2h0M348.6 370.9h0M349.6 360.4h0M349.2 368.2h0M349 369.6h0M349.2 366.9h0M349.3 368.9h0M349.7 370.6h0M350.5 350.7h0M350.2 366h0M350 368h0M351.8 355.7h0M351.8 357.5h0M352.4 360.4h0M352.4 363.5h0M352.5 365.8h0M353.6 354.4h0M353.3 357h0M353.2 349.4h0M354.9 369.8h0M354.5 361.5h0M354.2 369.2h0M354.6 365.2h0M355 367.1h0M354.4 368.7h0M354.8 370.8h0M354.3 367.3h0M354.5 365h0M354.1 362.7h0M354.2 360.6h0M354.6 358.7h0M354.4 356.8h0M354.3 355.3h0M354.5 352.5h0M354.5 349.9h0M356.8 353.4h0M356.8 357.2h0M357.2 359.1h0M356 366.8h0M356.2 368.4h0M356.2 368.1h0M356.9 364.1h0M357.2 366.9h0M357 373.3h0M358.9 359.7h0M357.7 368.4h0M358.3 367.2h0M358.2 365.2h0M358.3 363.7h0M357.8 361.4h0M358.7 360.4h0M359.6 368h0M359.9 367.7h0M359.1 373.2h0M359.3 373.2h0M360.7 364.4h0M360.8 366.8h0M361.3 353.3h0M361.3 361.3h0M363.9 355.5h0M363.2 359.6h0M363.1 361.7h0M363 364.9h0M364.1 370.3h0M364.1 372.6h0M364.1 355.3h0M365.7 367.2h0M365.6 362.3h0M365.9 365.2h0M366.6 363.1h0M366.1 365.4h0M366.3 363.7h0M366.5 365.8h0M366.1 362.5h0M366.1 364.1h0M366.7 365.3h0M368.4 368.5h0M368.8 371.7h0M368.6 368.6h0M368.2 365.9h0M367.9 362.9h0M368.2 360h0M368.2 356.9h0M369.6 367.1h0M370.4 373.4h0M370.7 372.1h0M371.7 366.5h0M372.9 358.5h0M373.9 360.9h0M373.6 363.3h0M374.5 354.7h0M374.8 356.3h0M374.3 361.5h0M374.4 364.3h0M374 365.9h0M374.3 368h0M374.7 354.6h0M374.8 357.2h0M375.1 371.5h0M376.7 358.9h0M376.6 348.1h0M377 350.1h0M376.3 371.3h0M376.9 371.9h0M377.3 373.6h0M377.1 369.7h0M378.4 376.4h0M378.7 370.4h0M378.5 372.6h0M379 375.6h0M379.4 370.9h0M379.4 372.8h0M379.9 376.1h0M379.3 369.3h0M379 371.7h0M381.7 373.8h0M381.9 377h0M381.5 377h0M381.7 370h0M381.7 372.4h0M381.5 374.4h0M385.6 373h0M385.4 374.7h0" stroke="#4d4d4d" stroke-width="2.4" stroke-linecap="round" fill="none"/>
<path d="M389.3 423.4 L389.3 380.8 L390.3 376.7 L391.3 370.9 L392.3 371.3 L393.3 370.2 L394.3 371.8 L395.3 370.6 L396.3 372.1 L397.3 371.9 L398.3 370 L399.3 367.3 L400.3 368.6 L401.3 370.9 L402.3 373.4 L403.3 372.7 L404.3 372.9 L405.3 373.2 L406.3 371.4 L407.3 369.1 L408.3 367.1 L409.4 368.3 L410.4 369.3 L411.4 370.5 L412.4 368.3 L413.4 365.1 L414.4 367.8 L415.4 368.6 L416.4 371.8 L417.4 367.6 L418.4 368.5 L419.4 370.6 L420.4 370.9 L421.4 371.1 L422.4 369.2 L423.4 369.3 L424.4 369.5 L425.4 366.1 L426.4 367.9 L427.4 367.8 L428.4 372.9 L429.4 371.5 L430.4 368.9 L431.4 367.2 L432.4 368.2 L433.4 372.4 L434.4 371.6 L435.4 371.5 L436.4 368.9 L437.4 370.7 L438.4 370.5 L439.4 371.6 L440.4 373 L441.4 370.7 L442.4 372.5 L443.4 370.2 L444.4 371.5 L445.4 366.8 L446.4 366.6 L447.4 366.2 L448.4 372.9 L449.4 377.9 L449.4 423.4Z" fill="#999999" stroke="#999999" stroke-width="2.4" stroke-linejoin="round"/>
<path d="M388.9 379.4h0M389 380.8h0M390 366.7h0M390.3 350.8h0M389.9 352.3h0M391.9 356.1h0M391.8 358.7h0M393.8 349.6h0M393 366h0M393.2 368.4h0M394 366.4h0M394.3 367.9h0M394.3 370.4h0M394.9 361.6h0M394.7 364.5h0M395.2 366.9h0M395 369.8h0M396.1 357.9h0M396 361h0M396.4 364.1h0M395.9 372h0M396.3 370.1h0M396.9 368.4h0M397.1 370.4h0M397.6 368.8h0M397.5 367.7h0M397.5 370h0M398.2 369.5h0M398.8 359.8h0M399.1 362.6h0M398.6 364.8h0M398.8 367.5h0M398.8 369.5h0M398.7 366.3h0M399.7 355.4h0M399.8 366.8h0M399.1 362.7h0M399.3 364.4h0M399.4 367.2h0M399.4 366.2h0M400 366.8h0M400 366.8h0M399.9 350.8h0M399.6 352.5h0M401.4 367.9h0M401.2 370.5h0M403.4 370h0M404.7 362.2h0M404.2 365h0M404.7 370h0M404.9 365.9h0M405.1 368.9h0M405.6 367.1h0M405.8 373.1h0M404.8 373h0M406.3 359.1h0M406.8 368.4h0M407 369.9h0M407.8 368h0M406.9 360.3h0M407.1 363.4h0M408.2 348.6h0M407.8 351.3h0M408.6 362h0M408.8 364.4h0M408.1 360h0M408 361.7h0M408.8 365.5h0M408.1 363h0M408.8 361.5h0M408.4 358.5h0M408.1 356.2h0M408.2 354.8h0M408.6 353.4h0M408.4 350.9h0M408.3 348.3h0M408.3 346.2h0M407.9 344.7h0M408.4 343.1h0M409.3 358.4h0M409.1 359.9h0M409.8 361.5h0M409.3 363.3h0M409.5 366.4h0M409.7 363h0M409.8 365h0M409.7 367.1h0M410.4 366h0M410 365.7h0M410 367.6h0M410.3 369.1h0M410.8 365.9h0M410.9 368.7h0M411 370.3h0M411.1 357.7h0M411.3 359.6h0M410.7 361.6h0M411.1 364.8h0M411.6 347.6h0M411.6 350.2h0M411.4 368.4h0M411.8 370.3h0M412.1 355.7h0M411.9 358.1h0M411.6 361.1h0M412.7 359.4h0M413.4 361.3h0M412 361.4h0M411.8 363.7h0M411.9 365.4h0M412.6 357.5h0M412.3 360.2h0M412.6 360.9h0M412.9 363.4h0M412.4 365.2h0M412.6 366.1h0M412.3 368.1h0M413 363.9h0M414.2 362.3h0M413.9 364.1h0M414.4 360.4h0M414 363.4h0M414.4 365.6h0M414.5 351.6h0M414.3 356.6h0M414.2 359.1h0M414 366.8h0M414.6 363.7h0M413.7 361.4h0M414.7 358.8h0M414.2 356.5h0M414.4 355.1h0M414.2 353.8h0M414.7 351.9h0M414.4 348.7h0M414.7 347.4h0M414.3 345.4h0M414.9 343.5h0M415.6 363.4h0M415.3 366.3h0M414.9 353.2h0M415.6 352.4h0M415.4 366.7h0M416.7 370.3h0M416.7 370.4h0M417.9 364.6h0M418.1 366.4h0M417.1 367.5h0M418.9 366.4h0M418.2 359h0M419 364.4h0M418.6 362.4h0M418.3 361h0M418.2 358.5h0M418.1 356h0M418.7 352.8h0M418.7 351.1h0M418.4 349h0M417.7 346.8h0M418.3 345.8h0M418.6 344.2h0M418.9 358.8h0M419 362h0M419.8 366.1h0M419.6 370.6h0M419.7 370.4h0M420 362.7h0M419.9 365.1h0M420.3 368.7h0M420 370.9h0M420 370h0M420.7 360.8h0M421.2 363.5h0M421.1 358h0M421.9 370.8h0M421 367.1h0M421.5 370h0M422.3 357.8h0M422.3 360.8h0M421.9 356.7h0M422.1 364.6h0M421.9 367.1h0M422.1 355.3h0M422.8 365.7h0M422.9 367.9h0M422.8 363.6h0M423 366.1h0M423 369.1h0M423.8 368.3h0M423 366h0M423.3 367.7h0M424 363h0M425.5 360h0M426.8 353.1h0M426.7 354.8h0M425.9 350.5h0M429 359.8h0M429.4 362.8h0M428.6 365.6h0M429.7 363.5h0M428.9 371h0M430 355.2h0M430.3 368.1h0M430.1 365.6h0M431.6 365.7h0M431.5 361.6h0M432.1 367.9h0M433.4 371.1h0M434.8 362.2h0M434.5 368.1h0M434.4 370.8h0M434.7 353.3h0M435.6 370.2h0M435.8 370.8h0M436.5 361.8h0M436.4 368.5h0M437.7 362.3h0M437.5 364.8h0M437.4 366.9h0M438 359.8h0M438.4 357.5h0M438.1 359.2h0M439.7 368.9h0M440.7 359.4h0M441.2 366h0M440.8 368.7h0M441.7 369.3h0M441.4 366.6h0M441.5 369.6h0M441.1 370.1h0M442 361.2h0M442.7 367.5h0M442.9 369.5h0M443.6 359h0M443.8 360.7h0M443.2 369h0M444.2 365.6h0M444.4 368h0M445 364.5h0M445.1 366.1h0M445.1 358.6h0M444.9 360.3h0M445 362.1h0M445.4 365.4h0M445.2 358.2h0M445 359.8h0M445.3 362.1h0M445.5 347.7h0M445.7 350.8h0M445.6 358.9h0M445 361.8h0M445.6 363.7h0M445 366.1h0M446.8 363.9h0M446.4 365.8h0M446.9 362.2h0M447.6 362.2h0M447.3 363.5h0M447.5 366.1h0M448.1 367.2h0M447.9 369.3h0M448.7 372.3h0M449 359h0M449.4 369.5h0M449.1 372.7h0M449.4 374.4h0M449.3 377.5h0" stroke="#999999" stroke-width="2.4" stroke-linecap="round" fill="none"/>
<path d="M453.2 423.4 L453.2 368.6 L454.2 369.7 L455.2 366.7 L456.2 367.9 L457.2 366.2 L458.3 369.5 L459.3 370.2 L460.3 371.1 L461.3 367.3 L462.3 367.5 L463.3 365.9 L464.3 367.4 L465.3 366.6 L466.3 366.7 L467.3 366.2 L468.3 366.8 L469.3 367.7 L470.3 367 L471.3 365.3 L472.3 363 L473.4 364.4 L474.4 365.7 L475.4 368.7 L476.4 370.1 L477.4 372.3 L478.4 371.6 L479.4 369.3 L480.4 369.2 L481.4 369.3 L482.4 372.6 L483.4 372.4 L484.4 373.8 L485.4 370.5 L486.4 369.7 L487.5 366.1 L488.5 365.4 L489.5 364.5 L490.5 365.4 L491.5 367.1 L492.5 368.4 L493.5 371.9 L494.5 371.8 L495.5 372.2 L496.5 371.3 L497.5 373.4 L498.5 373.4 L499.5 372 L500.5 373.6 L501.5 376.3 L502.6 376.8 L503.6 375.6 L504.6 373.7 L505.6 376.6 L506.6 379.3 L507.6 378.6 L508.6 376.5 L509.6 375.4 L510.6 376.7 L511.6 376.9 L512.6 372.6 L513.6 371.4 L514.6 372.2 L515.6 375.9 L516.7 378.3 L517.7 379.1 L518.7 379.7 L519.7 378.2 L520.7 378 L521.7 379 L522.7 381.6 L522.7 423.4Z" fill="#4d4d4d" stroke="#4d4d4d" stroke-width="2.4" stroke-linejoin="round"/>
<path d="M453.7 342.8h0M453.5 345.3h0M453.2 353.3h0M453.1 354.9h0M453.3 357.2h0M453.8 369.6h0M454 365.4h0M453.9 368h0M455.7 364h0M455.3 365.2h0M455.2 356.5h0M455.9 367.7h0M456.3 367h0M457.4 365.7h0M458.6 368.8h0M457.9 369.3h0M458.2 368.3h0M459.4 369.1h0M459 365.8h0M458.3 367.3h0M461.3 367h0M461.6 363.3h0M461.6 365.4h0M461 363.3h0M461.2 362.1h0M461 359.5h0M461.3 357.3h0M460.8 356.1h0M461.3 354.4h0M461.6 352h0M461.7 350.8h0M461.5 349.7h0M462.6 359.7h0M462.2 364h0M462.4 367h0M462.4 356.1h0M462.1 359h0M461.9 360.7h0M462.8 350.2h0M463.1 353.3h0M463 355.4h0M462.7 357.4h0M462.7 360.5h0M462.8 365.9h0M464.5 365.6h0M464.1 366h0M465.3 362.5h0M466.2 359.5h0M466.9 365.4h0M467.5 357.5h0M467.8 360.4h0M469.6 348.2h0M469.5 365.7h0M471.6 363.5h0M471.8 363.5h0M471.5 365.2h0M471.7 362h0M470.9 360.8h0M471.1 362.5h0M472.7 344.4h0M472.9 347.4h0M472.5 357.1h0M472.6 359.2h0M472.8 361.7h0M471.9 355h0M472.5 357h0M472 359.7h0M472.6 356.2h0M472.5 357.8h0M472.7 355h0M472 355h0M471.5 356.8h0M472.2 359.8h0M471.7 361.8h0M473.7 352.8h0M475.3 365.9h0M475.5 366.6h0M475 368.3h0M475.3 365h0M474.9 366.7h0M474.9 362.1h0M474.8 364.6h0M475.7 368.5h0M474.9 368.3h0M477 360h0M477 361.8h0M477.6 358.3h0M477.4 360.6h0M477.5 362.3h0M478.8 370.9h0M478 369.7h0M478.2 371.2h0M478.5 371.1h0M478.3 368.1h0M478.4 369.6h0M479.7 367.1h0M479.3 363.5h0M479.7 353.5h0M479.6 355.5h0M480.2 358.2h0M480.3 361.3h0M480.3 363.6h0M480.5 366.2h0M480.1 368.3h0M480.7 366.5h0M481.8 368.3h0M481.2 362h0M480.9 363.6h0M481.1 366.1h0M481.1 368.7h0M483 367.6h0M483.1 370.6h0M483.1 359.1h0M484.7 363.1h0M484.4 365.4h0M484 364.4h0M483.7 366.7h0M484.1 369.8h0M484.9 359.6h0M484.3 365.8h0M484.4 368.7h0M484.5 371.9h0M485.7 361.6h0M485.9 363.1h0M485.4 366.1h0M486.5 367.7h0M486.2 369.3h0M487.3 366h0M487.7 347.5h0M487.7 350.2h0M488.7 357.4h0M488.5 359.6h0M488.7 361.2h0M488.7 357.5h0M488.6 360h0M489.4 356.7h0M489.5 359.4h0M490 362.1h0M490.4 356.5h0M490.6 359.1h0M490.7 356.5h0M491.8 358.6h0M492 360.5h0M491.4 357.1h0M491.4 359.2h0M492.8 362.7h0M493.3 365.4h0M493 367.8h0M493 360.3h0M493.4 362.5h0M494 364.3h0M494 366.6h0M493.1 356.2h0M493.1 354.7h0M493.1 370.5h0M493.1 353.4h0M493.6 355.8h0M492.7 358.5h0M493.5 360.3h0M492.9 362.4h0M494.4 367.1h0M494.4 369.5h0M494.1 359.3h0M494.4 362.4h0M494.1 364.6h0M494.1 366.9h0M495.3 364.9h0M496.7 361h0M496.8 363.2h0M496.6 366h0M497 368.5h0M496.7 368.8h0M496.8 365.2h0M496.5 368.4h0M498.2 369.1h0M498 370.8h0M497.9 372.6h0M499 361.8h0M500.4 362.4h0M501.3 368.1h0M501.3 370.7h0M501.6 372.4h0M502.8 374.6h0M504.2 370.3h0M504.1 373.2h0M504.2 348.6h0M504.5 350.4h0M505.9 368.1h0M505.4 374.9h0M505.4 357.3h0M505.6 371.7h0M506.2 370.2h0M506.1 373.1h0M506.3 363.6h0M506.3 366.8h0M510 373.6h0M510.6 371.5h0M512 376h0M513 368.9h0M513.6 363.6h0M514.2 356h0M513.8 358.1h0M514.3 360.2h0M515.1 368.9h0M515.1 371.7h0M516.1 373.1h0M517.1 376.9h0M516.3 370.7h0M516.5 373.6h0M516.3 375.2h0M516.9 359.8h0M517.2 362.9h0M516.2 373.3h0M516.6 376h0M516.9 371.9h0M516.7 374.5h0M518.1 359.2h0M517.6 361.4h0M517.5 375.8h0M517.3 378.4h0M517.7 368.7h0M518.9 371.9h0M519 373.6h0M518.2 377.9h0M518.9 376.8h0M518.9 372.5h0M519.6 362.3h0M519.8 373.2h0M520 376.1h0M520 364.4h0M519.2 374.1h0M519.8 371.2h0M519.8 369.8h0M519.9 367.2h0M519.6 365.1h0M519.8 362.7h0M519.7 359.9h0M522.1 371.2h0M522.3 354.3h0M522.5 357.2h0M523 372.2h0M523 375h0" stroke="#4d4d4d" stroke-width="2.4" stroke-linecap="round" fill="none"/>
<path d="M526.9 423.4 L526.9 381.9 L527.9 383.3 L528.9 379.9 L529.9 381 L530.9 376.5 L531.9 379.1 L532.9 378.5 L533.9 377.8 L534.9 375.1 L535.9 376.6 L536.9 380.4 L537.9 380.5 L538.9 376.5 L539.9 371 L540.9 369.5 L541.9 369.6 L542.9 370.2 L543.9 369.4 L544.9 371.7 L545.9 372.1 L546.9 374.2 L547.9 372.8 L548.9 372.7 L549.9 369.7 L550.9 370 L551.9 369.4 L552.9 368.7 L553.9 367.1 L554.9 368.7 L555.9 370.3 L556.9 371.6 L557.9 371.3 L558.9 370.7 L559.9 369.1 L560.9 369.1 L562 369 L563 370.1 L564 369.9 L565 372.2 L566 371.9 L567 372.2 L568 370.4 L569 369.5 L570 368.2 L571 367.6 L572 369.6 L573 372.8 L574 374.3 L575 373.6 L576 371 L577 368.5 L578 368 L579 366.2 L580 368.6 L581 370.5 L582 371.2 L583 372.1 L584 372.7 L585 374.6 L586 372.5 L587 368.8 L588 367.9 L589 367.1 L590 368.6 L591 370.7 L592 373.2 L593 375.2 L594 373 L595 374.2 L596 373.6 L597 374.2 L598 369.8 L599 366.9 L600 366 L601 366.8 L602 367.8 L603 363.3 L604 365.8 L605 368.1 L606 371.8 L606 423.4Z" fill="#999999" stroke="#999999" stroke-width="2.4" stroke-linejoin="round"/>
<path d="M527.2 361h0M526.9 375.7h0M527.9 381.9h0M527.8 380.4h0M527.8 382.6h0M528.7 360.9h0M529.7 375.5h0M530.2 373.4h0M530.4 376.4h0M529.6 380.7h0M530.6 367.8h0M530.6 370.7h0M531.6 377.7h0M532.7 374.4h0M532.6 377.2h0M532.4 366.7h0M532.5 368.6h0M532 371.4h0M533.2 376.4h0M532.9 363.5h0M533.8 375.8h0M533.9 371.8h0M534.5 373.2h0M534.2 371.3h0M534.5 373.2h0M534.8 374.8h0M535 354.7h0M534.9 357.8h0M536.2 372.8h0M536.2 374.9h0M536.1 376.5h0M535.6 367.1h0M536.3 365.8h0M535.8 369h0M536.4 370.8h0M536 373.1h0M537.1 380.2h0M537.4 353.3h0M537.6 356.4h0M538.2 377.9h0M537.6 368.6h0M537.6 370.9h0M539.8 349.9h0M539.8 351.7h0M539.5 368.8h0M540 352.1h0M540 368.1h0M539.9 370.5h0M540.8 368.8h0M541.5 363.3h0M541.6 365.9h0M541.3 368.6h0M542 354.4h0M541.9 356.7h0M541.9 359h0M542.2 354.9h0M542.9 366.2h0M542.8 367.9h0M543.8 359.9h0M543.5 361.5h0M544.4 366.5h0M545.8 369h0M545.5 361h0M545.4 363.3h0M545.4 369.4h0M546.5 368.8h0M547.4 370.2h0M547.6 372.5h0M549.2 368h0M548.8 370.2h0M549.5 360.8h0M550.4 363.8h0M550.5 365.5h0M550.5 368.6h0M550.4 356h0M551.4 359.8h0M551.1 362.4h0M551.2 365.9h0M551.1 362.9h0M550.6 360h0M551.1 357.3h0M551 355.9h0M550.6 353.3h0M551.9 361.6h0M552.1 363h0M551.9 366.2h0M551.7 367.7h0M553.1 350.6h0M552.7 353.6h0M552.8 355.2h0M552.5 361.2h0M552.6 363.6h0M553.6 357.6h0M553.8 359.4h0M554.7 363.7h0M554.6 366.9h0M554.7 352.3h0M554.7 354.2h0M555.4 352.9h0M556.1 370.2h0M556.1 368h0M556.2 370.2h0M556.3 363.8h0M556.3 355.6h0M556.5 357.6h0M557.3 369.5h0M558.5 367.3h0M558.4 370.1h0M559.6 366.2h0M559.4 368.5h0M560.4 354.8h0M559.5 365.1h0M559.6 363h0M559.7 360.5h0M560.1 358.5h0M560.2 355.4h0M560 353.1h0M560.1 349.9h0M561.9 368.3h0M562.1 364.9h0M562.2 367.9h0M561.7 368.8h0M561.6 363h0M561.8 365.8h0M562.7 367.4h0M564.3 369h0M566 370.5h0M567.5 364.5h0M567.9 367.7h0M566.6 369.4h0M567 368.2h0M566.4 365.7h0M567 363.5h0M566.5 360.7h0M566.8 358.6h0M566.8 357.2h0M566.8 355.6h0M566.8 354.4h0M566.6 352.3h0M566.4 349.6h0M566.6 348.4h0M566.9 347.2h0M567.8 361.6h0M567.7 351.9h0M568 354.8h0M567.4 357.2h0M567.6 356.9h0M567.8 360.1h0M568.4 352.8h0M570.3 359.7h0M570.1 361.9h0M570.2 363.9h0M571.1 365.6h0M571 364.9h0M570.7 367.5h0M571.2 362h0M571.3 355.9h0M572.4 351.7h0M572.3 354.3h0M572.4 355.8h0M572.7 362h0M573.3 370.9h0M572.7 371.3h0M573.9 371.4h0M573.8 373.6h0M574.6 368.6h0M574.6 371h0M576.2 343.3h0M576.1 365.8h0M575.9 368.3h0M576 370.5h0M576.1 369.8h0M577.1 362.5h0M576.5 368h0M577.8 358.5h0M577.9 361.9h0M577.9 365.1h0M578.4 362.9h0M578.5 362.5h0M578.3 364.1h0M578.7 363.9h0M578.4 366h0M579 361.9h0M579 363.5h0M578.9 366.2h0M579.8 366.5h0M580.2 367h0M579.6 353.7h0M579.7 356.9h0M580.4 357.4h0M580.5 359.8h0M580.3 363h0M580.3 364.6h0M581.2 362.4h0M582.3 370.7h0M583.3 363.1h0M582.7 365.1h0M584.4 367.6h0M584.3 360.4h0M584.6 352.4h0M584.8 354.8h0M584.9 357.1h0M584.8 372.1h0M584.6 373.6h0M585.5 370.5h0M586.4 365.4h0M586.4 368.2h0M586.1 370.7h0M585.7 370.6h0M586.8 362.5h0M586.8 365.4h0M587.8 341.8h0M587.3 344.5h0M588.8 365.7h0M588.9 365.1h0M590.9 367.1h0M590.5 369.8h0M591 368.4h0M591 370.3h0M591.4 357.1h0M590.9 359.1h0M591.6 369.4h0M592.2 365.2h0M592.2 367.6h0M592.5 370h0M594.1 369.8h0M593.5 370h0M593.7 371.7h0M594.4 371.5h0M595.6 358h0M596.1 360.8h0M595.5 363.6h0M596.3 363.7h0M595.6 373.4h0M597.1 358.6h0M597.3 373h0M598.2 363.1h0M598.2 369.2h0M597.7 352.7h0M597.5 354.7h0M597.7 356.7h0M597.6 359.2h0M597.9 368.4h0M598 362.1h0M598.2 363.8h0M598.5 366.8h0M598 369.4h0M597.8 358.7h0M597.5 361.5h0M598.6 364.6h0M599.3 358.8h0M599.5 360.9h0M599.5 362.8h0M599.3 365.1h0M600 354.5h0M599.7 356.2h0M600.3 360.2h0M600.9 362h0M600.8 365.2h0M601.5 366.4h0M601.5 365.5h0M600.8 349.7h0M600.7 352.7h0M600.8 354.6h0M601.9 358h0M601.8 359.5h0M603.1 362.7h0M602.7 359.5h0M602.7 361.7h0M604 361.4h0M604.1 364.5h0M603.7 357.5h0M604.6 356.8h0M604.1 358.5h0M605.1 358.2h0M605 360.4h0M605.3 362.7h0M604.8 356.3h0M605.5 357.2h0" stroke="#999999" stroke-width="2.4" stroke-linecap="round" fill="none"/>
<path d="M609.8 423.4 L609.8 408.9 L610.7 402.5 L611.7 394.2 L612.6 395.2 L613.5 400.8 L613.5 423.4Z" fill="#4d4d4d" stroke="#4d4d4d" stroke-width="2.4" stroke-linejoin="round"/>
<path d="M609.5 407h0M610 404.8h0M610 407.6h0M610.4 394.7h0M612.1 381.1h0M611.5 394.1h0M611.4 387.2h0M611.5 389.2h0M611.2 391.1h0M612.1 393.5h0M611.9 388h0M611.9 390.1h0M612.1 391.9h0M613 383h0M612.2 393.3h0M612.8 390.1h0M612.4 393.7h0M612.5 393.9h0M613.1 399.3h0M613.8 391.7h0M614.3 393.6h0M613.6 395.9h0M613.9 399.9h0" stroke="#4d4d4d" stroke-width="2.4" stroke-linecap="round" fill="none"/>
<path d="M617.4 423.4 L617.4 373.1 L618.4 373 L619.4 372.2 L620.4 370.7 L621.4 372 L622.4 371.7 L623.4 371.1 L624.4 367.8 L625.4 368 L626.4 370 L627.4 372.8 L628.4 374.6 L629.4 374.8 L630.4 374.8 L631.4 373.5 L632.4 373.7 L633.4 372.7 L634.4 371.2 L635.4 370.3 L636.4 369 L637.4 373 L638.4 372.5 L639.4 374.6 L640.4 370.2 L641.4 373 L642.4 372.9 L643.4 374 L644.4 369.3 L645.4 370.3 L646.4 371.7 L647.4 375.5 L648.4 371.4 L649.4 368.4 L650.4 367 L651.4 367.9 L652.4 371.5 L653.4 373.5 L654.4 374 L655.4 373.8 L656.4 371.3 L657.4 372.4 L658.4 370.1 L659.4 371.4 L660.4 371 L661.4 371.4 L662.4 370.8 L663.4 368.9 L664.4 370.9 L665.4 372.2 L666.4 372.8 L667.4 371.2 L668.4 370.7 L669.4 373.3 L670.4 374.8 L671.4 374 L672.4 372.7 L673.4 373.2 L674.4 374.2 L675.4 373.2 L676.4 370.6 L677.4 367.7 L678.4 369.8 L679.4 373.1 L680.4 377.1 L680.4 423.4Z" fill="#999999" stroke="#999999" stroke-width="2.4" stroke-linejoin="round"/>
<path d="M616.9 372.3h0M617.7 370.9h0M617 371.1h0M618.6 372.3h0M618.7 366h0M618.1 370.1h0M618.1 372.4h0M619.9 363.1h0M619.4 371h0M620.9 365.4h0M621.1 367.7h0M623.8 355.4h0M623.6 356.9h0M623.1 367.6h0M623 366.6h0M623.4 368.7h0M624.9 366.8h0M624.9 367.6h0M624.8 363.5h0M625 366.7h0M625.6 360.9h0M625.5 362.7h0M626 358.4h0M625.9 361.3h0M626 364.5h0M625.7 366.7h0M625.6 369.7h0M627.5 369.2h0M627.7 371.8h0M628.2 361.4h0M628.5 363.7h0M629.9 367.1h0M629.9 368.7h0M629.4 371h0M630.7 372.6h0M631.2 365.9h0M632.8 372.5h0M632.7 371.7h0M632.8 372.7h0M632.9 364h0M634.7 366.3h0M634.6 368.6h0M634.4 370.4h0M633.9 362.9h0M634 364.7h0M634 366.7h0M634.8 370.4h0M634.9 368.5h0M635.5 369.1h0M636.3 364.8h0M636.4 366.7h0M636.2 367.2h0M636.6 354h0M636.8 355.7h0M636.7 358.1h0M637.4 365.8h0M637.2 366.3h0M637.4 372.9h0M638.8 369.2h0M638.7 372.3h0M638.3 363.7h0M638.1 365.5h0M637.8 367.4h0M639.6 370.9h0M639.8 373.1h0M639.6 374.4h0M639.9 374.3h0M640.4 365.2h0M641.4 371h0M641.6 370.5h0M641.4 362.5h0M641.6 365.7h0M641.4 368.4h0M641.3 370.3h0M641 372h0M642.9 372.2h0M642.7 373.9h0M643.2 364.9h0M643.1 368h0M643.6 371.5h0M643.6 373.6h0M643.4 363.4h0M643.5 365.9h0M644.8 367.1h0M645.8 351.8h0M645.7 353.8h0M645.9 356.4h0M646.2 369.8h0M646.8 370.6h0M646.6 367.7h0M645.8 364.6h0M646.5 363.5h0M646.3 360.5h0M646.5 358h0M646.8 355.7h0M646.4 353.3h0M646.7 352.2h0M646.1 349.6h0M646 347.3h0M646.9 370.2h0M646.8 372.3h0M647.3 374.4h0M650.1 360.9h0M650.6 362.7h0M650.7 366.7h0M651.9 362.2h0M652.5 365.1h0M653.1 372.3h0M653.8 371.6h0M653.9 371.5h0M654 373.8h0M655 367.8h0M655.9 356.2h0M655.9 358.6h0M656.4 356.1h0M656.6 354h0M656.8 356.7h0M656.8 358.9h0M656.2 361.4h0M656.7 364.6h0M656.5 367.8h0M656.5 370.7h0M656.1 355.1h0M656 357h0M656 358.7h0M656.1 358.5h0M655.9 369.4h0M657.3 371.1h0M658 370h0M659.8 370.3h0M660.2 370.8h0M660.1 364.8h0M660.4 368.1h0M660.3 370.5h0M661 367.2h0M661.2 368.6h0M661.6 363.9h0M661.6 365.8h0M661.4 368.9h0M661.3 371h0M661.8 368.6h0M661.8 367.2h0M661.7 369.4h0M662.3 368.2h0M663.7 366.7h0M664.4 370.5h0M664.4 365h0M664.4 368h0M664.2 369.7h0M665.8 366.7h0M666 369.1h0M665.4 371.4h0M665.1 364.1h0M665.2 372h0M666.3 362.4h0M666.3 365.1h0M666.7 368.3h0M666 370.8h0M666.6 372.4h0M666.1 368.7h0M666.1 367.2h0M666.5 365.3h0M666.4 363.9h0M667 362.2h0M666.9 359.4h0M666.5 357.9h0M666.1 354.7h0M666.7 352.9h0M666.6 350.1h0M667.8 353.9h0M668.2 365.7h0M667.9 367.4h0M668.8 360.8h0M669 362.3h0M669.1 364.4h0M669.1 366.8h0M668.8 365.6h0M668.3 366.6h0M668.7 365.1h0M668.4 362h0M668.6 360.7h0M668.2 358.5h0M668.6 357.3h0M668.5 356.1h0M668.6 354.2h0M668.6 350.9h0M669.2 368.2h0M669.3 369.8h0M669.1 372h0M669 370.8h0M669.5 361.1h0M671.8 364.1h0M672.3 365.7h0M671.6 372.6h0M671.7 368.3h0M672.1 368.7h0M672.5 360.1h0M672.2 363.2h0M672.5 365.9h0M674.7 368h0M674.1 364.9h0M674.3 366.6h0M674.8 373.6h0M675.1 363.5h0M675 365.7h0M675 367.4h0M676.6 370.5h0M676.6 368.8h0M676.2 350.7h0M676.1 353.3h0M676.5 355.1h0M677.5 356h0M677.7 360.5h0M677.8 362.1h0M677.7 359h0M678.1 360.8h0M678.5 362.9h0M677.8 364.6h0M678.7 367.2h0M678.8 369.1h0M678.7 358.5h0M679 371.6h0M679.6 372.5h0M680.6 373.7h0M681.1 376.6h0" stroke="#999999" stroke-width="2.4" stroke-linecap="round" fill="none"/>
<path d="M376.5 355h0M378 357h0M376.6 359h0M378.2 361h0M377 363h0M376 365h0M378.4 366h0M376.8 345.5h0M378.3 347.5h0M376.5 338h0M378 341.5h0M376.2 343.2h0M343.5 363h0M342 365h0M321.2 362h0M322.5 364h0M362.2 362.5h0M363.5 364.5h0M377.3 324h0M377.3 334h0M377.3 337h0M377.3 340h0M377.5 343h0M377.8 346h0M377.3 349h0M375.3 351.8h0M377 352h0M382.9 356.9h0M363 347.7h0M342.8 338h0M342.8 341.5h0M342.8 345h0M342.8 348h0M342.8 352h0M342.8 356h0M342.8 360h0M336.4 344.8h0M329.3 346.7h0M331.8 346.5h0M329.3 350.8h0M321.6 351.8h0M321.6 354h0M321.6 356.5h0M321.6 359h0M324.7 353.3h0M324.7 356.4h0M328.3 354.9h0M340.5 353.8h0M336.4 356.9h0M337.5 360h0M356.9 354.9h0M357.4 356.9h0M361 353.3h0M362 356.5h0M363 360h0M352.8 359h0M351.8 361h0" stroke="#4d4d4d" stroke-width="2.4" stroke-linecap="round" fill="none"/>
<path d="M427.4 330.2h0M427.4 335.3h0M427.4 340.4h0M429.4 344h0M430.5 345h0M429.4 347.6h0M436.1 340.4h0M436.1 344h0M443.2 343h0M435 348.1h0M437.1 349.6h0M439.1 349.6h0M444.2 350.1h0M415.6 343.7h0M416.7 349.1h0M419.7 352.2h0M414.1 353.2h0M415.6 354.7h0M401.3 353.7h0M401.3 356.3h0M391.6 355.3h0M405.9 355.8h0M408 356.8h0M422.8 356.3h0M432 353.7h0M397.2 359.9h0" stroke="#999999" stroke-width="2.4" stroke-linecap="round" fill="none"/>
<path d="M485 325.3h0M470.9 333.1h0M487.3 334.3h0M467.9 340.9h0M473.5 342.5h0M456.1 343.5h0M484.7 343h0M486.3 345h0M486.8 347.1h0M493.9 344.7h0M501.1 344.3h0M505.2 340.9h0M499 348.1h0M505.2 347.6h0M505.2 350.5h0M505.2 353.5h0M462.8 350.1h0M456.1 348.6h0M457.2 350.7h0M468.4 345.5h0M471 346.5h0M473.5 347.5h0M475.5 348.6h0M501.1 353.2h0M510.3 358.3h0M510.3 359.9h0" stroke="#4d4d4d" stroke-width="2.4" stroke-linecap="round" fill="none"/>
<path d="M557.6 318.2h0M538.9 333.5h0M534.3 346.3h0M534.3 350.4h0M534.3 352.4h0M581.3 349.9h0M557.6 354.1h0M557.6 357.5h0M561.4 356.5h0M566.5 354.5h0M570.6 354.5h0M571.6 355.5h0M576 357.5h0M581.3 355h0M581.3 357.5h0M586.4 355h0M585.4 357h0M538.9 358h0M545 357.5h0M592.3 332.3h0M593.8 333.3h0M603.3 336.9h0M594.3 342.5h0M596.9 344h0M603.5 346.6h0M600.9 347.6h0M598.4 349.6h0M592.3 350.1h0M581.5 349.8h0M603.5 352.7h0M603.5 355.5h0" stroke="#999999" stroke-width="2.4" stroke-linecap="round" fill="none"/>
<path d="M611.5 382.5h0" stroke="#4d4d4d" stroke-width="2.4" stroke-linecap="round" fill="none"/>
<path d="M626.2 344.3h0M623.1 351.2h0M632.6 352.2h0M632.1 353.7h0M632.1 358.6h0M641.3 346.4h0M649.5 337.9h0M648 354.2h0M625 359.3h0M638.2 362.9h0M654.1 334.7h0M655.3 335.3h0M650.6 338h0M647.6 341.2h0M641.2 346.2h0M632.4 351.8h0M632.4 353.5h0M632.4 358.2h0M647.6 354.1h0M653.5 355.9h0M658.2 352.6h0M664.1 351.4h0M670.6 351.4h0M677.6 335.9h0M677.6 338.2h0M677.6 340.6h0M677.6 347.4h0M677.6 350.6h0M675.9 354.1h0M641.2 356.5h0M659.4 357.1h0" stroke="#999999" stroke-width="2.4" stroke-linecap="round" fill="none"/>
<path d="M426.5 400.9h0M426.5 403.11h0M426.5 405.32h0M426.5 407.53h0M426.5 409.74h0M426.5 411.95h0M426.5 414.16h0M426.5 416.37h0M426.5 418.58h0M426.5 420.79h0M426.5 423h0M426.5 290.4h0M426.5 318.2h0M426.5 323.5h0M426.5 336.5h0M426.5 350.1h0M426.5 363.2h0M426.5 377h0M426.5 381.1h0M426.5 384.5h0M426.5 395.5h0" stroke="#e8832f" stroke-width="3.2" stroke-linecap="round" fill="none"/>
<line x1="316.5" y1="277.6" x2="316.5" y2="423.4" stroke="#000" stroke-width="1.25"/>
<line x1="307.5" y1="423.4" x2="316.5" y2="423.4" stroke="#000" stroke-width="1.25"/>
<text x="298.9" y="428.7" font-size="14" text-anchor="end">0</text>
<line x1="307.5" y1="391" x2="316.5" y2="391" stroke="#000" stroke-width="1.25"/>
<text x="298.9" y="396.3" font-size="14" text-anchor="end">2</text>
<line x1="307.5" y1="358.6" x2="316.5" y2="358.6" stroke="#000" stroke-width="1.25"/>
<text x="298.9" y="363.9" font-size="14" text-anchor="end">4</text>
<line x1="307.5" y1="326.2" x2="316.5" y2="326.2" stroke="#000" stroke-width="1.25"/>
<text x="298.9" y="331.5" font-size="14" text-anchor="end">6</text>
<line x1="307.5" y1="293.8" x2="316.5" y2="293.8" stroke="#000" stroke-width="1.25"/>
<text x="298.9" y="299.1" font-size="14" text-anchor="end">8</text>
<line x1="316.5" y1="429.4" x2="681.4" y2="429.4" stroke="#000" stroke-width="1.25"/>
<line x1="316.5" y1="429.4" x2="316.5" y2="438.7" stroke="#000" stroke-width="1.25"/>
<text x="316.5" y="460.5" font-size="14" text-anchor="middle">Chr</text>
<line x1="353" y1="429.4" x2="353" y2="438.7" stroke="#000" stroke-width="1.25"/>
<text x="353" y="460.5" font-size="14" text-anchor="middle">2L</text>
<line x1="419.1" y1="429.4" x2="419.1" y2="438.7" stroke="#000" stroke-width="1.25"/>
<text x="419.1" y="460.5" font-size="14" text-anchor="middle">2R</text>
<line x1="487.8" y1="429.4" x2="487.8" y2="438.7" stroke="#000" stroke-width="1.25"/>
<text x="487.8" y="460.5" font-size="14" text-anchor="middle">3L</text>
<line x1="566.5" y1="429.4" x2="566.5" y2="438.7" stroke="#000" stroke-width="1.25"/>
<text x="566.5" y="460.5" font-size="14" text-anchor="middle">3R</text>
<line x1="611.5" y1="429.4" x2="611.5" y2="438.7" stroke="#000" stroke-width="1.25"/>
<text x="611.5" y="460.5" font-size="14" text-anchor="middle">4</text>
<line x1="649" y1="429.4" x2="649" y2="438.7" stroke="#000" stroke-width="1.25"/>
<text x="649" y="460.5" font-size="14" text-anchor="middle">X</text>
<line x1="316.7" y1="300.5" x2="682.1" y2="300.5" stroke="#000" stroke-width="1.2" stroke-dasharray="5.37 3.82"/>
<g transform="translate(255.8 381.2) rotate(-90)"><line x1="0" y1="-3.1" x2="6.5" y2="-3.1" stroke="#000" stroke-width="1.05"/><text x="8.8" y="0" font-size="13.5">log</text><text x="27.78" y="2.4" font-size="9.5">10</text><text x="38.14" y="0.2" font-size="15.5">(</text><text x="45.64" y="0" font-size="13.5" font-style="italic">p</text><text x="55.91" y="0.2" font-size="15.5">)</text></g>
<text transform="translate(3.9 12.0) scale(0.88 1)" font-size="15.6">A</text>
<text x="244" y="12" font-size="15.5" text-anchor="start">B</text>
<text x="4" y="276" font-size="15.5" text-anchor="start">C</text>
<text x="244.3" y="276" font-size="15.3" text-anchor="start">D</text>
<path d="M210.59 41.46 L204.16 55.37 L200.4 61.36 L197.74 65.05 L195.67 67.69 L193.98 69.72 L192.55 71.36 L191.31 72.74 L190.22 73.93 L189.25 74.97 L188.36 75.89 L186.81 77.47 L185.49 78.8 L184.89 79.39 L183.3 80.93 L182.37 81.82 L181.13 82.98 L180.04 84 L179.06 84.89 L177.9 85.95 L176.87 86.88 L175.73 87.9 L174.52 88.97 L173.45 89.91 L172.34 90.88 L171.21 91.85 L169.97 92.91 L168.88 93.84 L167.81 94.75 L166.61 95.76 L165.55 96.66 L164.4 97.61 L163.26 98.55 L162.15 99.47 L161.03 100.4 L159.87 101.35 L158.77 102.25 L157.63 103.18 L156.51 104.09 L155.36 105.02 L154.24 105.93 L153.12 106.83 L151.99 107.74 L150.86 108.65 L149.74 109.55 L148.61 110.45 L147.49 111.34 L146.36 112.24 L145.23 113.14 L144.11 114.04 L142.98 114.93 L141.85 115.82 L140.72 116.72 L139.6 117.61 L138.47 118.5 L137.35 119.38 L136.22 120.27 L135.09 121.16 L133.96 122.04 L132.84 122.93 L131.71 123.81 L130.58 124.7 L129.46 125.58 L128.33 126.46 L127.2 127.34 L126.08 128.23 L124.95 129.11 L123.82 129.99 L122.7 130.87 L121.57 131.75 L120.44 132.63 L119.32 133.51 L118.19 134.39 L117.06 135.27 L115.94 136.14 L114.81 137.02 L113.68 137.9 L112.56 138.78 L111.43 139.65 L110.3 140.53 L109.18 141.41 L108.05 142.29 L106.92 143.16 L105.8 144.04 L104.67 144.92 L103.54 145.79 L102.42 146.67 L101.29 147.54 L100.16 148.42 L99.04 149.3 L97.91 150.17 L96.78 151.05 L95.66 151.92 L94.53 152.8 L93.4 153.67 L92.27 154.55 L91.15 155.42 L90.02 156.3 L88.89 157.17 L87.77 158.05 L86.64 158.92 L85.51 159.8 L84.39 160.67 L83.26 161.55 L82.13 162.42 L81.01 163.3 L79.88 164.17 L78.75 165.05 L77.63 165.92 L76.5 166.8 L76.5 166.8 L77.63 165.93 L78.75 165.06 L79.88 164.18 L81.01 163.31 L82.13 162.44 L83.26 161.57 L84.39 160.69 L85.51 159.82 L86.64 158.95 L87.77 158.07 L88.89 157.2 L90.02 156.33 L91.15 155.46 L92.27 154.58 L93.4 153.71 L94.53 152.84 L95.66 151.97 L96.78 151.09 L97.91 150.22 L99.04 149.35 L100.16 148.48 L101.29 147.61 L102.42 146.73 L103.54 145.86 L104.67 144.99 L105.8 144.12 L106.92 143.25 L108.05 142.38 L109.18 141.51 L110.3 140.64 L111.43 139.77 L112.56 138.9 L113.68 138.03 L114.81 137.16 L115.94 136.29 L117.06 135.42 L118.19 134.55 L119.32 133.68 L120.44 132.81 L121.57 131.94 L122.7 131.07 L123.82 130.21 L124.95 129.34 L126.08 128.47 L127.2 127.61 L128.33 126.74 L129.46 125.88 L130.58 125.01 L131.71 124.15 L132.84 123.28 L133.96 122.42 L135.09 121.56 L136.22 120.7 L137.35 119.84 L138.47 118.98 L139.6 118.12 L140.72 117.26 L141.85 116.4 L142.98 115.54 L144.11 114.69 L145.23 113.84 L146.36 112.98 L147.49 112.13 L148.61 111.29 L149.74 110.44 L150.86 109.59 L151.99 108.75 L153.12 107.9 L154.24 107.06 L155.36 106.22 L156.51 105.37 L157.63 104.54 L158.77 103.7 L159.87 102.89 L161.03 102.03 L162.15 101.21 L163.26 100.4 L164.4 99.57 L165.55 98.74 L166.61 97.97 L167.81 97.11 L168.88 96.34 L169.97 95.56 L171.21 94.68 L172.34 93.89 L173.45 93.11 L174.52 92.36 L175.73 91.53 L176.87 90.74 L177.9 90.03 L179.06 89.24 L180.04 88.58 L181.13 87.85 L182.37 87.03 L183.3 86.42 L184.89 85.38 L185.49 84.99 L186.81 84.14 L188.36 83.16 L189.25 82.61 L190.22 82 L191.31 81.33 L192.55 80.58 L193.98 79.72 L195.67 78.73 L197.74 77.53 L200.4 76.04 L204.16 74 L210.59 70.7Z" fill="#aaaaaa" stroke="#7a7a7a" stroke-width="0.6"/>
<line x1="70.6" y1="171.5" x2="231.5" y2="46.5" stroke="#e03535" stroke-width="1.3"/>
<path d="M76.8 166.8L91.6 154.4" stroke="#000" stroke-width="3.75" stroke-linecap="round"/>
<path d="M91.6 154.4L98.4 148.4" stroke="#000" stroke-width="3.85" stroke-linecap="round"/>
<path d="M98.4 148.4L115.6 134.3" stroke="#000" stroke-width="4" stroke-linecap="round"/>
<path d="M115.6 134.3L125 126.5" stroke="#000" stroke-width="4.2" stroke-linecap="round"/>
<path d="M125 126.5L130 121.4" stroke="#000" stroke-width="4.4" stroke-linecap="round"/>
<path d="M130 121.4L141.8 111.6" stroke="#000" stroke-width="4.7" stroke-linecap="round"/>
<path d="M141.8 111.6L153.5 101.9" stroke="#000" stroke-width="4.9" stroke-linecap="round"/>
<path d="M153.5 101.9L160.6 95.4" stroke="#000" stroke-width="4.8" stroke-linecap="round"/>
<path d="M160.6 95.4L165.3 90.1" stroke="#000" stroke-width="4.6" stroke-linecap="round"/>
<path d="M165.3 90.1L168.8 84.8" stroke="#000" stroke-width="4.45" stroke-linecap="round"/>
<path d="M168.8 84.8L173.5 78.9" stroke="#000" stroke-width="4.4" stroke-linecap="round"/>
<path d="M173.5 78.9L177.1 74.2" stroke="#000" stroke-width="4.3" stroke-linecap="round"/>
<path d="M177.1 74.2L179.4 70.7" stroke="#000" stroke-width="4.1" stroke-linecap="round"/>
<path d="M179.4 70.7L183.5 67.8" stroke="#000" stroke-width="3.95" stroke-linecap="round"/>
<path d="M183.5 58.2L186.6 55" stroke="#000" stroke-width="3.9" stroke-linecap="round"/>
<path d="M186.4 45.4L189.3 39.5" stroke="#000" stroke-width="3.9" stroke-linecap="round"/>
<path d="M189.7 33.6L195.2 26.2" stroke="#000" stroke-width="3.9" stroke-linecap="round"/>
<path d="M195.2 26.2L201.1 25.4" stroke="#000" stroke-width="3.9" stroke-linecap="round"/>
<circle cx="185.8" cy="53.6" r="1.95"/>
<circle cx="204.1" cy="25.6" r="1.95"/>
<circle cx="210.3" cy="24" r="1.95"/>
<line x1="70.6" y1="17.85" x2="70.6" y2="166.8" stroke="#000" stroke-width="1.25"/>
<line x1="62" y1="166.8" x2="70.6" y2="166.8" stroke="#000" stroke-width="1.25"/>
<text x="54.3" y="172.1" font-size="14" text-anchor="end">0</text>
<line x1="62" y1="133.7" x2="70.6" y2="133.7" stroke="#000" stroke-width="1.25"/>
<text x="54.3" y="139" font-size="14" text-anchor="end">2</text>
<line x1="62" y1="100.6" x2="70.6" y2="100.6" stroke="#000" stroke-width="1.25"/>
<text x="54.3" y="105.9" font-size="14" text-anchor="end">4</text>
<line x1="62" y1="67.5" x2="70.6" y2="67.5" stroke="#000" stroke-width="1.25"/>
<text x="54.3" y="72.8" font-size="14" text-anchor="end">6</text>
<line x1="62" y1="34.4" x2="70.6" y2="34.4" stroke="#000" stroke-width="1.25"/>
<text x="54.3" y="39.7" font-size="14" text-anchor="end">8</text>
<line x1="76.5" y1="173" x2="225.88" y2="173" stroke="#000" stroke-width="1.25"/>
<line x1="76.5" y1="173" x2="76.5" y2="181.5" stroke="#000" stroke-width="1.25"/>
<text x="76.5" y="202.8" font-size="14" text-anchor="middle">0</text>
<line x1="97.84" y1="173" x2="97.84" y2="181.5" stroke="#000" stroke-width="1.25"/>
<text x="97.84" y="202.8" font-size="14" text-anchor="middle">1</text>
<line x1="119.18" y1="173" x2="119.18" y2="181.5" stroke="#000" stroke-width="1.25"/>
<text x="119.18" y="202.8" font-size="14" text-anchor="middle">2</text>
<line x1="140.52" y1="173" x2="140.52" y2="181.5" stroke="#000" stroke-width="1.25"/>
<text x="140.52" y="202.8" font-size="14" text-anchor="middle">3</text>
<line x1="161.86" y1="173" x2="161.86" y2="181.5" stroke="#000" stroke-width="1.25"/>
<text x="161.86" y="202.8" font-size="14" text-anchor="middle">4</text>
<line x1="183.2" y1="173" x2="183.2" y2="181.5" stroke="#000" stroke-width="1.25"/>
<text x="183.2" y="202.8" font-size="14" text-anchor="middle">5</text>
<line x1="204.54" y1="173" x2="204.54" y2="181.5" stroke="#000" stroke-width="1.25"/>
<text x="204.54" y="202.8" font-size="14" text-anchor="middle">6</text>
<line x1="225.88" y1="173" x2="225.88" y2="181.5" stroke="#000" stroke-width="1.25"/>
<text x="225.88" y="202.8" font-size="14" text-anchor="middle">7</text>
<g transform="translate(91.2 248.9)"><text x="-1.11" y="0" font-size="13.5">Expected</text><line x1="62.9" y1="-3.1" x2="69.4" y2="-3.1" stroke="#000" stroke-width="1.05"/><text x="71.7" y="0" font-size="13.5">log</text><text x="90.68" y="2.4" font-size="9.5">10</text><text x="101.04" y="0.2" font-size="15.5">(</text><text x="107.04" y="0" font-size="13.5" font-style="italic">p</text><text x="117.31" y="0.2" font-size="15.5">)</text></g>
<g transform="translate(13.8 154) rotate(-90)"><text x="-0.63" y="0" font-size="13.5">Observed</text><line x1="65.6" y1="-3.1" x2="72.1" y2="-3.1" stroke="#000" stroke-width="1.05"/><text x="74.4" y="0" font-size="13.5">log</text><text x="93.38" y="2.4" font-size="9.5">10</text><text x="103.74" y="0.2" font-size="15.5">(</text><text x="109.74" y="0" font-size="13.5" font-style="italic">p</text><text x="120.01" y="0.2" font-size="15.5">)</text></g>
<path d="M209.3 300.28 L202.95 314.02 L199.23 319.94 L196.59 323.58 L194.54 326.18 L192.87 328.19 L191.45 329.81 L190.23 331.18 L189.15 332.35 L188.18 333.38 L187.31 334.29 L185.78 335.85 L184.46 337.16 L183.87 337.74 L182.3 339.27 L181.38 340.14 L180.15 341.29 L179.07 342.3 L178.11 343.18 L176.96 344.23 L175.94 345.14 L174.8 346.16 L173.61 347.21 L172.55 348.14 L171.45 349.1 L170.33 350.06 L169.11 351.1 L168.03 352.02 L166.97 352.92 L165.78 353.92 L164.73 354.8 L163.59 355.75 L162.47 356.68 L161.37 357.59 L160.26 358.5 L159.11 359.44 L158.02 360.33 L156.9 361.25 L155.78 362.15 L154.65 363.07 L153.54 363.97 L152.43 364.86 L151.31 365.76 L150.2 366.65 L149.08 367.54 L147.97 368.43 L146.86 369.31 L145.74 370.2 L144.62 371.09 L143.51 371.98 L142.4 372.86 L141.28 373.74 L140.16 374.62 L139.05 375.5 L137.93 376.38 L136.82 377.25 L135.7 378.13 L134.59 379.01 L133.47 379.88 L132.36 380.76 L131.24 381.63 L130.13 382.51 L129.01 383.38 L127.9 384.25 L126.78 385.12 L125.67 385.99 L124.55 386.86 L123.44 387.73 L122.32 388.6 L121.21 389.47 L120.09 390.34 L118.98 391.21 L117.86 392.08 L116.75 392.95 L115.63 393.81 L114.52 394.68 L113.4 395.55 L112.28 396.42 L111.17 397.28 L110.05 398.15 L108.94 399.02 L107.82 399.88 L106.71 400.75 L105.59 401.61 L104.48 402.48 L103.36 403.35 L102.25 404.21 L101.13 405.08 L100.02 405.94 L98.9 406.81 L97.79 407.67 L96.67 408.54 L95.56 409.4 L94.44 410.27 L93.33 411.13 L92.21 412 L91.1 412.86 L89.98 413.73 L88.87 414.59 L87.75 415.45 L86.64 416.32 L85.52 417.18 L84.41 418.05 L83.29 418.91 L82.18 419.78 L81.06 420.64 L79.95 421.5 L78.83 422.37 L77.72 423.23 L76.6 424.1 L76.6 424.1 L77.72 423.24 L78.83 422.38 L79.95 421.52 L81.06 420.65 L82.18 419.79 L83.29 418.93 L84.41 418.07 L85.52 417.2 L86.64 416.34 L87.75 415.48 L88.87 414.62 L89.98 413.76 L91.1 412.89 L92.21 412.03 L93.33 411.17 L94.44 410.31 L95.56 409.45 L96.67 408.58 L97.79 407.72 L98.9 406.86 L100.02 406 L101.13 405.14 L102.25 404.28 L103.36 403.42 L104.48 402.56 L105.59 401.69 L106.71 400.83 L107.82 399.97 L108.94 399.11 L110.05 398.25 L111.17 397.39 L112.28 396.53 L113.4 395.67 L114.52 394.81 L115.63 393.95 L116.75 393.1 L117.86 392.24 L118.98 391.38 L120.09 390.52 L121.21 389.66 L122.32 388.81 L123.44 387.95 L124.55 387.09 L125.67 386.24 L126.78 385.38 L127.9 384.53 L129.01 383.67 L130.13 382.82 L131.24 381.96 L132.36 381.11 L133.47 380.26 L134.59 379.41 L135.7 378.56 L136.82 377.7 L137.93 376.86 L139.05 376.01 L140.16 375.16 L141.28 374.31 L142.4 373.46 L143.51 372.62 L144.62 371.78 L145.74 370.93 L146.86 370.09 L147.97 369.26 L149.08 368.42 L150.2 367.58 L151.31 366.75 L152.43 365.91 L153.54 365.09 L154.65 364.26 L155.78 363.41 L156.9 362.59 L158.02 361.76 L159.11 360.96 L160.26 360.12 L161.37 359.3 L162.47 358.5 L163.59 357.68 L164.73 356.86 L165.78 356.1 L166.97 355.25 L168.03 354.49 L169.11 353.72 L170.33 352.86 L171.45 352.07 L172.55 351.3 L173.61 350.56 L174.8 349.74 L175.94 348.96 L176.96 348.26 L178.11 347.48 L179.07 346.83 L180.15 346.11 L181.38 345.29 L182.3 344.69 L183.87 343.66 L184.46 343.28 L185.78 342.44 L187.31 341.47 L188.18 340.92 L189.15 340.32 L190.23 339.66 L191.45 338.92 L192.87 338.07 L194.54 337.09 L196.59 335.91 L199.23 334.43 L202.95 332.42 L209.3 329.16Z" fill="#aaaaaa" stroke="#7a7a7a" stroke-width="0.6"/>
<line x1="71.06" y1="428.6" x2="229.7" y2="305.4" stroke="#e03535" stroke-width="1.3"/>
<path d="M76.8 424L111.3 394.8" stroke="#000" stroke-width="3.65" stroke-linecap="round"/>
<path d="M111.3 394.8L144.2 368.4" stroke="#000" stroke-width="3.9" stroke-linecap="round"/>
<path d="M144.2 368.4L151.8 362.5" stroke="#000" stroke-width="4.3" stroke-linecap="round"/>
<path d="M151.8 362.5L158.8 355.4" stroke="#000" stroke-width="4.6" stroke-linecap="round"/>
<path d="M158.8 355.4L167.1 348.4" stroke="#000" stroke-width="4.7" stroke-linecap="round"/>
<path d="M167.1 348.4L175.3 341.3" stroke="#000" stroke-width="4.65" stroke-linecap="round"/>
<path d="M175.3 341.3L181.2 335.4" stroke="#000" stroke-width="4.5" stroke-linecap="round"/>
<path d="M181.2 335.4L187.1 331.3" stroke="#000" stroke-width="4.2" stroke-linecap="round"/>
<path d="M187.1 331.3L188.8 330.1" stroke="#000" stroke-width="3.95" stroke-linecap="round"/>
<path d="M190.6 324.2L194.1 323.6" stroke="#000" stroke-width="3.9" stroke-linecap="round"/>
<path d="M196.3 318L203.3 318.4" stroke="#000" stroke-width="3.9" stroke-linecap="round"/>
<circle cx="209" cy="289.8" r="1.95"/>
<line x1="70.6" y1="276.95" x2="70.6" y2="424.1" stroke="#000" stroke-width="1.25"/>
<line x1="62" y1="424.1" x2="70.6" y2="424.1" stroke="#000" stroke-width="1.25"/>
<text x="54.3" y="429.4" font-size="14" text-anchor="end">0</text>
<line x1="62" y1="391.4" x2="70.6" y2="391.4" stroke="#000" stroke-width="1.25"/>
<text x="54.3" y="396.7" font-size="14" text-anchor="end">2</text>
<line x1="62" y1="358.7" x2="70.6" y2="358.7" stroke="#000" stroke-width="1.25"/>
<text x="54.3" y="364" font-size="14" text-anchor="end">4</text>
<line x1="62" y1="326" x2="70.6" y2="326" stroke="#000" stroke-width="1.25"/>
<text x="54.3" y="331.3" font-size="14" text-anchor="end">6</text>
<line x1="62" y1="293.3" x2="70.6" y2="293.3" stroke="#000" stroke-width="1.25"/>
<text x="54.3" y="298.6" font-size="14" text-anchor="end">8</text>
<line x1="76.6" y1="430.2" x2="224.44" y2="430.2" stroke="#000" stroke-width="1.25"/>
<line x1="76.6" y1="430.2" x2="76.6" y2="438.7" stroke="#000" stroke-width="1.25"/>
<text x="76.6" y="459.8" font-size="14" text-anchor="middle">0</text>
<line x1="97.72" y1="430.2" x2="97.72" y2="438.7" stroke="#000" stroke-width="1.25"/>
<text x="97.72" y="459.8" font-size="14" text-anchor="middle">1</text>
<line x1="118.84" y1="430.2" x2="118.84" y2="438.7" stroke="#000" stroke-width="1.25"/>
<text x="118.84" y="459.8" font-size="14" text-anchor="middle">2</text>
<line x1="139.96" y1="430.2" x2="139.96" y2="438.7" stroke="#000" stroke-width="1.25"/>
<text x="139.96" y="459.8" font-size="14" text-anchor="middle">3</text>
<line x1="161.08" y1="430.2" x2="161.08" y2="438.7" stroke="#000" stroke-width="1.25"/>
<text x="161.08" y="459.8" font-size="14" text-anchor="middle">4</text>
<line x1="182.2" y1="430.2" x2="182.2" y2="438.7" stroke="#000" stroke-width="1.25"/>
<text x="182.2" y="459.8" font-size="14" text-anchor="middle">5</text>
<line x1="203.32" y1="430.2" x2="203.32" y2="438.7" stroke="#000" stroke-width="1.25"/>
<text x="203.32" y="459.8" font-size="14" text-anchor="middle">6</text>
<line x1="224.44" y1="430.2" x2="224.44" y2="438.7" stroke="#000" stroke-width="1.25"/>
<text x="224.44" y="459.8" font-size="14" text-anchor="middle">7</text>
<g transform="translate(91.2 505.2)"><text x="-1.11" y="0" font-size="13.5">Expected</text><line x1="62.9" y1="-3.1" x2="69.4" y2="-3.1" stroke="#000" stroke-width="1.05"/><text x="71.7" y="0" font-size="13.5">log</text><text x="90.68" y="2.4" font-size="9.5">10</text><text x="101.04" y="0.2" font-size="15.5">(</text><text x="107.04" y="0" font-size="13.5" font-style="italic">p</text><text x="117.31" y="0.2" font-size="15.5">)</text></g>
<g transform="translate(13.8 413.1) rotate(-90)"><text x="-0.63" y="0" font-size="13.5">Observed</text><line x1="65.6" y1="-3.1" x2="72.1" y2="-3.1" stroke="#000" stroke-width="1.05"/><text x="74.4" y="0" font-size="13.5">log</text><text x="93.38" y="2.4" font-size="9.5">10</text><text x="103.74" y="0.2" font-size="15.5">(</text><text x="109.74" y="0" font-size="13.5" font-style="italic">p</text><text x="120.01" y="0.2" font-size="15.5">)</text></g>
</svg></body></html>
